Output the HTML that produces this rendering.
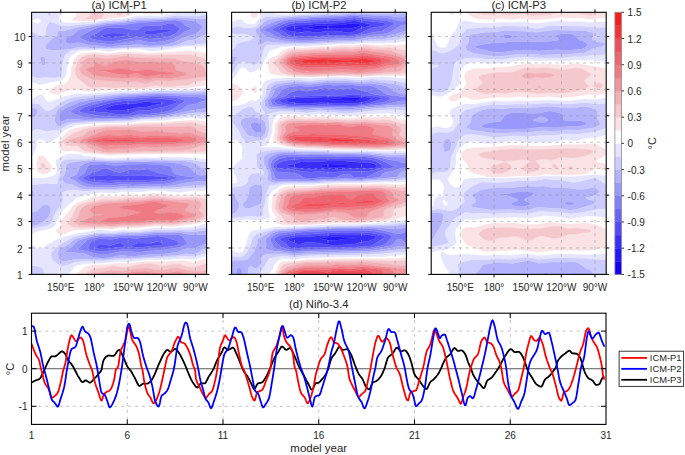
<!DOCTYPE html>
<html><head><meta charset="utf-8"><style>
html,body{margin:0;padding:0;background:#fff;overflow:hidden}
svg{display:block}
</style></head><body>
<svg width="685" height="455" viewBox="0 0 685 455">
<rect width="685" height="455" fill="#fff"/>
<clipPath id="cp0"><rect x="31.6" y="12.3" width="175.0" height="262.09999999999997"/></clipPath>
<g clip-path="url(#cp0)">
<rect x="31.6" y="12.3" width="175.0" height="262.09999999999997" fill="#fff"/>
<path d="M107.3 178.4 112.4 178.4 113.5 178.3 112.4 177.8 109 177.3 106.2 178.3ZM107.3 109.9 114.1 110.6 122.5 110.4 127.5 109.8 137.6 107.4 146 107.3 154.4 105 164.8 103.2 161.2 102 154.4 102.4 146 101.6 135.9 103.6 127.5 103.6 117.4 104.6 111.7 105.8 105 108.4 106 109.8Z" fill="#372dfa" stroke="#372dfa" stroke-width="0.4" fill-rule="evenodd"/>
<path d="M97.2 248.6 102.3 249.2 123.9 246.7 124.8 245.4 120.8 243 119.1 243 110.7 245.4 107.3 245.3 100.6 244 96.3 246.7 95.8 248.1ZM132.6 246.8 139.3 247.4 151.1 246 161.6 245.4 162.8 244.1 161.2 242.7 158.1 241.5 151.1 243.2 137.6 243 131.1 245.4 131.9 246.7ZM109 180.9 120.8 180 132.6 180.5 163.9 179.6 168.7 178.3 167.7 176.9 145 175.6 130.9 175.2 120.8 176 109 175 92.2 176.3 89.3 176.9 88.5 178.3 90.5 179.5ZM106.2 178.3 109 177.3 113.5 178.3ZM114.1 113.8 120.8 114.5 127.5 114.3 130.4 113.7 137.6 110.7 149.4 110.5 154.4 108.8 164.5 106.8 175.4 103.2 177 101.9 176.3 101.2 171.3 99.7 161.2 98.7 151.1 99.1 144.3 99.2 137.6 100.3 125.8 100.8 115.7 101.9 109.6 103.2 90.9 108.4 88.7 109.8 88.8 111.1 90.5 111.5 105.7 112.4ZM106 109.8 105 108.4 111.7 105.8 117.4 104.6 127.5 103.6 135.9 103.6 146 101.6 154.4 102.4 162.8 102.2 164.8 103.2 154.4 105 147.7 107 135.9 107.7 125.8 110.1 115.7 110.6ZM105.6 37.5 112.4 38.1 123.1 36 126.6 34.7 124.9 33.4 122.5 33.2 110.7 33.1 103.6 34.7 101 36ZM147.7 34.8 151.1 34.8 167.4 32.1 170.1 30.7 169.8 29.4 166.2 29.3 147.2 30.7 144.3 32.1 144.3 33.4Z" fill="#504afa" stroke="#504afa" stroke-width="0.4" fill-rule="evenodd"/>
<path d="M93.9 250.8 102.3 251.5 124.1 249.3 139.3 249.6 164.5 247.4 176.5 245.4 179.3 244.1 178 241.5 176.3 240.4 169.6 238.6 162.8 236.8 157.8 236.1 135.9 238.4 122.5 237.6 110.7 239.4 102.3 238.6 98.5 238.8 94.1 240.2 91.9 241.5 90.4 242.8 88.2 246.7 87.8 248.1 88.7 249.4ZM95.8 248.1 97.2 245.9 100.6 244 109 245.4 112.4 245.1 119.1 243 122.5 243.7 124.8 245.4 123.9 246.7 100.6 249.3ZM131.9 246.7 131.1 245.4 137.6 243 149.4 243.3 157.2 241.5 159.5 241.9 162.8 244.1 161.2 245.5 151.1 246 139.3 247.4ZM93.9 182.3 110.7 183.2 122.5 181.9 132.6 182.6 164.5 181.6 177.5 178.3 176.3 176.9 162.8 173.7 157.8 173 147.7 169.1 139.3 170.2 130.9 169.3 122.5 172 119.1 172.4 114.1 171.6 107.3 168.6 104 168.3 101.5 169 98.9 170.7 92.2 172.3 89.6 174.3 83.7 176.9 82.8 178.3 84.2 179.6 88.8 181.5ZM108.3 180.9 90.5 179.5 88.5 178.3 89.3 176.9 92.2 176.3 109 175 120.8 176 130.9 175.2 146 175.6 167.7 176.9 168.7 178.3 163.9 179.6 132.6 180.5 122.5 179.9ZM110.7 116.5 120.8 116.9 129.2 116.5 139.3 114.2 149.4 114 162.2 112.4 167.9 111.2 171.8 109.8 179.2 104.5 184.5 101.9 184.7 100.5 179.7 98.5 174.6 97.5 161.2 96.6 154.4 96.8 118.8 99.2 109 100.8 93.9 104.3 84.9 107.1 80.4 109.7 79.2 111.1 80.6 112.4 100.6 116ZM113.6 113.7 105.7 112.4 90.5 111.5 88.8 111.1 88.7 109.8 90.9 108.4 109.6 103.2 116.3 101.9 125.8 100.8 137.6 100.3 144.3 99.2 152.8 99.1 162.8 98.8 172.9 100 175.1 100.5 177 101.9 174.6 103.5 164.5 106.8 154.4 108.8 149.4 110.5 137.6 110.7 130.4 113.7 127.5 114.3 120.8 114.5ZM107.3 41.4 114.1 41.2 137.6 37 149.4 39.1 161.2 38.1 169.6 36.4 176.3 32.9 179.7 29.4 179.4 28.1 172.9 23.5 169.6 23.2 162.8 25 159.5 25.4 146 25.5 142.7 26.5 138 29.4 135.9 29.8 132.6 29.7 124.1 28.1 110.7 27.6 106 28.1 102.3 29.5 96.4 33.4 90 36 89.3 37.3 91.3 38.6 93.9 39.4ZM104.6 37.3 101 36 103.6 34.7 109 33.4 114.1 33 124.1 33.3 126.6 34.7 117 37.3 110.7 38.2ZM147.3 34.7 144.3 33.4 144.3 32.1 147.2 30.7 167.9 29.2 169.8 29.4 170.1 30.7 167.4 32.1 151.1 34.8Z" fill="#6864fa" stroke="#6864fa" stroke-width="0.4" fill-rule="evenodd"/>
<path d="M100.6 254.7 105.6 254.5 120.8 251.6 127.5 251.4 139.3 252.2 151.1 250.7 162.8 249.9 179.7 247.4 187.4 244.1 187.2 242.8 182.4 236.2 179.7 234.9 178 234.7 166.2 234.6 154.4 234.4 139.3 236 122.5 235.8 110.7 237.1 100.6 236.7 90.5 238.5 86.9 240.2 82.1 245.3 78.7 247.9 78.5 249.4ZM93.4 250.7 88.7 249.4 87.8 248.1 88.2 246.7 90.4 242.8 91.9 241.5 94.1 240.2 98.9 238.8 102.3 238.6 110.7 239.4 122.5 237.6 135.9 238.4 157.8 236.1 162.8 236.8 170.3 238.8 176.3 240.4 178 241.5 179.3 244.1 176.5 245.4 164.5 247.4 139.3 249.6 124.1 249.3 102.3 251.5ZM193.1 244.2 194.8 243.8 195.2 242.8 194.8 242.6 192.7 242.8 192.7 244.1ZM92.2 184.9 112.4 185.5 122.5 184.3 132.6 184.9 151.1 183.9 162.8 184.2 169.6 183.3 183 180 191.5 179 194.7 178.3 194 176.9 183 176 175.9 174.3 172.8 171.7 171.8 169 170.5 166.4 167.9 165.5 147.7 163.9 127.5 164.2 115.7 165.7 104 163.9 90.5 164.5 87.5 166.4 85.5 171.7 83.5 174.3 77.6 176.9 77 178.3 78.7 180 85.4 183.4 88.8 184.5ZM92.9 182.2 88.8 181.5 84.2 179.6 82.8 178.3 83.7 176.9 89.6 174.3 92.2 172.3 98.9 170.7 101.5 169 104 168.3 107.3 168.6 114.1 171.6 119.1 172.4 122.5 172 130.9 169.3 139.3 170.2 147.7 169.1 154.4 172 159.5 173.3 176.3 176.9 177.5 178.3 164.5 181.6 132.6 182.6 122.5 181.9 110.7 183.2ZM87.1 117.8 100.6 118.4 125.8 118.2 141 116 151.1 115.7 167.9 113.7 181.6 109.8 188.1 104.9 196.5 103.9 201.6 101.5 206.6 100.3 206.6 98.9 203.2 98.7 198.2 97.1 194.8 96.7 188.1 97 174.6 95.5 156.1 95 120.8 97.2 91.5 101.9 78.7 106.3 74.4 108.4 71 111.1 70.8 112.4 73.5 113.7 82.1 116.8ZM109.1 116.3 100.6 116 80.6 112.4 79.2 111.1 80.4 109.7 84.9 107.1 93.9 104.3 109 100.8 118.8 99.2 156.1 96.7 176.3 97.7 184.7 100.5 184.5 101.9 179.2 104.5 171.8 109.8 167.9 111.2 162.2 112.4 149.4 114 139.3 114.2 127.5 116.7ZM107.3 44.3 110.7 44.5 137.6 40.5 141 40.6 149.4 42.4 157.8 42.1 167.9 40.4 172.9 38.8 178.5 36 184.7 31.8 190 29.4 191.5 28.1 185.1 25.5 181.3 21.5 179.7 21 174.6 20.1 167.9 20.5 161.2 21.4 141 22.4 122.5 24.7 107.3 25.3 100.6 26.7 93.1 29.4 80.7 36 79.4 37.3 80.7 38.6 90.5 42.4 98.9 42.9ZM106.3 41.3 93.9 39.4 91.3 38.6 89.3 37.3 90 36 96.4 33.4 102.3 29.5 106 28.1 110.7 27.6 124.1 28.1 132.6 29.7 135.9 29.8 138 29.4 142.7 26.5 146 25.5 159.5 25.4 164.5 24.5 169.6 23.2 172.9 23.5 179.4 28.1 179.7 29.4 175.6 33.4 172.9 35 167.9 36.9 157.8 38.5 149.4 39.1 137.6 37 127.5 39.2 112.4 41.5Z" fill="#807efb" stroke="#807efb" stroke-width="0.4" fill-rule="evenodd"/>
<path d="M93.9 257.4 104 258.2 111.5 257.3 120.8 255.3 129.2 256.1 135.9 256.1 147.7 254.8 164.5 253.9 178 251.7 186.4 247.9 194.8 248.3 203.2 244.6 206.6 243.9 206.6 234.7 189.8 234.7 184.7 233.5 179.7 232.7 154.4 232.8 137.6 234.5 122.5 234.3 110.7 235.6 100.6 235 88.8 237.1 78.7 240.3 77 241.5 72 246.8 66 250.7 66 252 83.8 253.5ZM100.4 254.6 78.5 249.4 78.7 247.9 82.1 245.3 86.9 240.2 90.5 238.5 100.6 236.7 110.7 237.1 122.5 235.8 139.3 236 154.4 234.4 167.9 234.7 179.4 234.9 182.4 236.2 187.2 242.8 187.4 244.1 179.7 247.4 162.8 249.9 151.1 250.7 139.3 252.2 127.5 251.4 120.8 251.6 105.6 254.5ZM192.7 244.1 192.7 242.8 195.2 242.8 194.8 243.8ZM109 187.5 114.1 187.6 122.5 186.6 132.6 187 151.1 186 165.3 186.2 174.6 185.3 184.7 183.1 198.2 181.2 201.6 180.9 206.6 181.6 206.6 174.5 201.6 175.4 198.2 174.8 195.1 173 188.6 166.4 180.3 163.8 167.9 162.2 127.5 161.8 115.7 162.8 104 161.8 93.9 161.6 88.8 162.1 84.1 163.8 79.8 166.4 78.7 170.4 76.4 174.3 74.4 175.6 70.4 176.9 69.4 178.3 73.7 180.3 80.4 184.8 85.4 186.8 90.5 187.4ZM90.6 184.8 83.8 182.6 78.7 180 77 178.3 77.6 176.9 83.8 174 85.5 171.7 87.5 166.4 89.1 165.1 92.2 164.2 104 163.9 115.7 165.7 129.2 164.1 147.7 163.9 156.1 164.9 165.9 165.1 170.5 166.4 171.5 167.7 172.1 170.4 174 173 175.9 174.3 183 176 194 176.9 194.7 178.3 183 180 167.9 183.6 161.2 184.3 151.1 183.9 132.6 184.9 122.5 184.3 112.4 185.5ZM60.2 120.9 61.9 121.2 66.9 119.4 70.3 118.9 83.8 120.1 129.2 119.2 141 117.5 151.1 117.2 166.2 115.7 191.5 110.5 206.6 108.2 206.6 100.3 201.6 101.5 196.5 103.9 188.1 104.9 181.6 109.8 167.9 113.7 151.1 115.7 141 116 130.9 117.8 122.5 118.3 98.9 118.4 85.4 117.6 82.1 116.8 70.8 112.4 71 111.1 72.4 109.8 78.7 106.3 90.5 102.1 107.3 99 122.5 97 159.5 94.9 176.3 95.6 186.4 97 196.5 96.8 203.2 98.7 206.6 98.9 206.6 94.5 196.5 94.2 186.4 94.6 157.8 93.5 120.8 95.6 90.5 99.7 78.7 102.5 68.3 107.1 61.9 110.6 60.2 112.2 59.5 113.7 59.2 119ZM104 46.8 110.7 47.3 120.8 45.5 130.5 45.2 137.6 43.9 149.4 46.1 162.5 45.2 172.9 43 184.7 36.9 193.6 34.7 197.9 32.1 203.2 27 206.6 26.9 206.6 26.5 203.2 26.7 195.5 21.5 191.5 20.5 178 18.9 171.3 18.9 161.2 20 139.3 20.7 120.8 23 107.3 23.7 79.5 29.4 77.2 30.7 72.9 34.7 67.4 37.3 65.9 38.6 65.7 41.3 66.9 42.9 70.3 43.9 77 42.8 80.4 43.1 90.5 45.4 98.9 45.7ZM105.7 43.9 98.9 42.9 90.5 42.4 80.7 38.6 79.4 37.3 80.7 36 90 30.7 96.5 28.1 107.3 25.3 122.5 24.7 141 22.4 161.2 21.4 169.6 20.3 176.3 20.3 181.3 21.5 184.7 25.3 191.5 28.1 190 29.4 184.7 31.8 178.5 36 172.9 38.8 167.9 40.4 157.8 42.1 149.4 42.4 141 40.6 137.6 40.5 110.7 44.5Z" fill="#9998fc" stroke="#9998fc" stroke-width="0.4" fill-rule="evenodd"/>
<path d="M63.6 261.6 77 259.1 104 259.8 119.1 258.1 130.9 258.2 167.9 256.1 178 255.2 186.4 253.7 193.1 254.4 197.6 253.3 202.4 249.4 206.6 248.1 206.6 243.9 203.2 244.6 194.8 248.3 186.4 247.9 178 251.7 167.9 253.6 135.9 256.1 129.2 256.1 120.8 255.3 109 257.7 100.6 258.2 93.3 257.3 82.7 253.3 66 252 66 250.7 70.3 248.1 73.7 245.2 77 241.5 79.1 240.2 90.5 236.6 100.6 235 110.7 235.6 122.5 234.3 135.9 234.6 157.8 232.7 179.7 232.7 189.8 234.7 206.6 234.7 206.6 230.2 191.5 231.8 179.7 230.9 171.3 231.4 156.1 231.3 137.6 233.1 122.5 232.9 110.7 234.1 100.6 233.6 90.4 234.9 75.4 238.8 73 240.2 68.6 244.3 61.9 247.5 59.5 249.4 58.5 250.7 57.6 253.3 58.5 257.4 60.2 260.2ZM33.3 225.9 38.3 224.4 43.7 221.7 48.4 217 50.1 213.5 50.9 208.5 50.1 206.6 47.9 204.6 45.1 204.2 43.4 204.8 36.6 211.2 31.6 211.7 31.6 226ZM32.8 196.7 33.7 195.4 34 192.7 33.3 190.9 31.6 190.4 31.6 197.4ZM82.1 189 87.1 189.4 112.4 189.3 122.5 188.5 135.9 188.6 151.1 187.7 172.9 187.7 194.8 185.4 206.6 185.1 206.6 181.6 201.6 180.9 184.7 183.1 174.6 185.3 164.5 186.2 151.1 186 132.6 187 122.5 186.6 112.4 187.6 90.5 187.4 85.4 186.8 80.4 184.8 73.7 180.3 69.4 178.3 70.4 176.9 74.4 175.6 76.4 174.3 78.7 170.4 79.8 166.4 81.4 165.1 87.1 162.6 90.5 161.8 100.6 161.7 114.1 162.8 125.8 161.9 146 161.6 156.1 162.2 166.2 162 174.6 162.9 180.3 163.8 188.6 166.4 196.8 174.3 201.6 175.4 206.6 174.5 206.6 167.5 201.6 168.3 197.8 165.1 194.8 163.3 191.5 162.2 185.1 161.1 164.5 160.2 127.5 160.2 114.1 160.9 93.9 160 78.7 161.2 70.3 162.4 66.9 163.9 65.5 166.4 65.6 170.4 65 173 61.9 178.3 62.9 180.9 65.3 183.6 72 184.5 78.7 188ZM58.5 126.4 66.9 123.1 72 122 127.5 120.4 142.7 118.6 164.5 117.3 193.1 113.1 206.6 112.4 206.6 108.2 191.5 110.5 166.2 115.7 151.1 117.2 141 117.5 129.2 119.2 83.8 120.1 70.3 118.9 66.9 119.4 61.9 121.2 60.2 120.9 59.2 119 59.5 113.7 60.1 112.4 61.9 110.6 68.3 107.1 78.7 102.5 86.2 100.5 122.5 95.4 137.6 95 157.8 93.5 186.4 94.6 196.5 94.2 206.6 94.5 206.6 92 186.4 92.7 156.1 92.2 137.6 93.6 120.8 94 78.7 99.3 68.6 102.6 60.2 107.3 57.4 109.8 55.4 113.7 54.6 120.3 56 124.3ZM32.5 117.7 35 116.4 36.3 115 37.5 112.4 37.7 111.1 37.1 109.8 35 108.2 31.6 107.6 31.6 117.9ZM43.4 65.6 45.2 65 45 58.4 43.4 56.7 41.7 56.5 40.7 57.1 40 58.4 41.7 64.7ZM51.8 50.6 70.9 49.2 77 47.5 80.4 47.1 90.5 48 109 48.4 137.6 46.9 149.4 47.3 168 46.5 176.6 45.2 186.4 41.1 194.8 39.7 201.6 36 206.6 35.3 206.6 26.9 203.2 27 197.9 32.1 194.8 34.2 184.7 36.9 174.6 42.3 170 43.9 161.2 45.4 149.4 46.1 137.6 43.9 130.9 45.2 120.8 45.5 109 47.4 98.9 45.7 90.5 45.4 80.4 43.1 77 42.8 72 43.8 68.6 43.7 66.6 42.6 65.7 41.3 65.9 38.6 67.4 37.3 73.7 34.1 77.2 30.7 79.5 29.4 104 24.2 122.5 22.9 139.3 20.7 178 18.9 193.1 20.9 195.5 21.5 203.2 26.7 206.6 26.5 206.6 18.4 201.6 18.8 174.6 17.3 160.5 18.9 137.6 19.3 122.5 21.4 104 22.7 93.9 24.8 78.7 26.8 65.3 30.5 58.5 31.1 57.8 32.1 56.8 36 52.1 38.6 50.1 40.4 46.8 43.9 45.4 46.5 45.3 47.9 45.9 49.2Z" fill="#b2b2fd" stroke="#b2b2fd" stroke-width="0.4" fill-rule="evenodd"/>
<path d="M33.3 274.4 44.5 274.4 43.7 270.4 41.7 267.7 38.3 266.2 31.6 265.2 31.6 274.4ZM60.2 265.8 61.9 266.2 65.3 265.9 74.3 262.5 82.1 261.4 105.6 261.2 117.4 259.8 130.9 259.7 146 258.4 166.2 257.8 184.7 256.2 193.1 256.8 203.2 254.1 206.6 253.7 206.6 248.1 202.4 249.4 197.6 253.3 193.1 254.4 186.4 253.7 178 255.2 167.9 256.1 130.9 258.2 119.1 258.1 104 259.8 77 259.1 63.6 261.6 60.2 260.2 59 258.6 57.6 253.3 58 252 58.5 250.6 61 248.1 68.9 244.1 73 240.2 77 238.1 90.4 234.9 98.9 233.7 110.7 234.1 122.5 232.9 135.9 233.1 156.1 231.3 171.3 231.4 179.7 230.9 191.5 231.8 206.6 230.2 206.6 227.3 191.5 229.5 181.4 229.3 171.3 230 154.4 230 137.6 231.7 122.5 231.6 112.4 232.8 98.9 232.4 77 235.7 72.2 237.5 60.2 244.3 54 249.4 50.7 253.3 51.9 259.9ZM33.3 228.6 47.8 225.7 50.1 224.2 52.2 221.7 55.6 212.5 58.8 208.5 62.5 202 63 199.3 62.6 192.7 66.9 190.8 72 190.2 83.8 191.2 102.3 190.4 114.1 190.6 122.5 189.9 139.3 189.8 151.1 189.1 176.3 189.3 193.1 188.1 206.6 187.8 206.6 185.1 201.6 185.1 172.9 187.7 151.1 187.7 135.9 188.6 122.5 188.5 112.4 189.3 87.1 189.4 81.1 188.8 72 184.5 65.3 183.6 62.2 179.6 62.3 176.9 65 173 65.6 170.4 65.5 166.4 66.9 163.9 72 162.1 90.5 160.1 107.3 160.5 114.1 160.9 127.5 160.2 164.5 160.2 184.7 161.1 191.5 162.2 194.8 163.3 197.8 165.1 201.6 168.3 206.6 167.5 206.6 161.9 201.6 161.8 194.8 160.2 188.1 159.5 146 159 112.4 159.6 92.2 159 70.3 159 64.5 159.8 62 161.1 60.6 163.8 60.4 173 58.1 178.3 58 182.2 56.8 183.5 55.2 183.9 46.7 183.2 31.6 185 31.6 190.4 33.3 190.9 34 192.7 33.3 196.2 31.6 197.4 31.6 211.7 36.6 211.2 41.7 206 45.1 204.2 48.4 204.8 50.1 206.6 50.9 208.5 50.1 213.5 48.4 217 43.7 221.7 36.6 225.1 31.6 226 31.6 228.7ZM33.3 130.8 35.9 129.5 38.3 129.2 46.7 131.7 53.5 130.2 58.5 130.5 68.6 124.7 73.7 123.6 92.2 122.4 129.2 121.1 141 119.7 164.5 118.4 193.1 115.1 206.6 114.8 206.6 112.4 194.8 113 164.5 117.3 142.7 118.6 127.5 120.4 72 122 66.9 123.1 58.5 126.4 56 124.3 54.7 121.6 55.4 113.7 56.5 111.1 58.5 108.5 60.2 107.3 70.3 101.9 82.1 98.7 122.5 93.9 137.6 93.6 157.8 92.2 186.4 92.7 206.6 92 206.6 90 186.4 91.1 156.1 91 139.3 92.2 120.8 92.6 78.7 96.5 71 97.9 65.3 100 60.2 102.8 51.8 109.4 48.4 110.7 45.1 110.1 40 104.7 38.3 103.6 31.6 103.4 31.6 107.6 35.4 108.4 37.1 109.8 37.7 111.1 36.3 115 35 116.4 31.6 117.9 31.6 131.7ZM38.3 78.2 45.1 77.6 55.2 77.9 58.5 77.4 60.2 76.4 61.9 74.5 62.5 72.9 62.2 67.6 63.1 61 64.9 55.8 65.8 54.4 71.1 50.5 83.8 49.2 109 49.1 139.3 48 149.4 48.3 167.9 47.4 184.7 45.4 194.8 45.1 206.6 43.4 206.6 35.3 201.6 36 194.8 39.7 186.4 41.1 176.6 45.2 168 46.5 149.4 47.3 137.6 46.9 109 48.4 90.5 48 80.4 47.1 77 47.5 70.9 49.2 51.8 50.6 45.9 49.2 45.3 47.9 45.9 45.2 47.8 42.6 51.8 38.9 56.8 36 57.8 32.1 58.5 31.1 63.6 30.7 78.7 26.8 93.9 24.8 104 22.7 122.5 21.4 137.6 19.3 160.5 18.9 174.6 17.3 201.6 18.8 206.6 18.4 206.6 14.6 196.5 16 186.4 16 176.3 15.2 161.2 17.5 137.6 17.8 122.5 20.1 107.3 21 93.9 23.3 65.3 26 60.2 25.3 51.8 22 50.1 21.9 47.7 24.2 45.9 28.1 46 32.1 45.1 34.9 43.4 35.8 40 35.8 31.6 31.2 31.6 76.6ZM42.1 65 40 58.4 40.7 57.1 41.7 56.5 43.4 56.7 45 58.4 45.4 63.7 45.1 65.1 43.4 65.6ZM50.1 17.1 51.2 12.3 48.4 12.3 47.2 12.3 48.4 16Z" fill="#ccccff" stroke="#ccccff" stroke-width="0.4" fill-rule="evenodd"/>
<path d="M45.1 274.4 66.7 274.4 71.8 270.4 74.4 266.5 78.7 264.7 87.1 263.4 104 263 117.4 261.6 129.2 261.7 147.7 259.8 164.5 259.7 183 258.4 193.1 259.3 206.6 256.2 206.6 253.7 203.2 254.1 193.1 256.8 184.7 256.2 166.2 257.8 146 258.4 130.9 259.7 117.4 259.8 105.6 261.2 82.1 261.4 75.4 262.3 65.3 265.9 61.9 266.2 58.5 265 51.9 259.9 50.7 253.3 52.6 250.7 58.5 245.4 72 237.6 77 235.7 98.9 232.4 112.4 232.8 122.5 231.6 137.6 231.7 154.4 230 171.3 230 181.4 229.3 191.5 229.5 206.6 227.3 206.6 223.5 202.6 224.4 195.3 227 191.5 227.4 181.4 227.5 169.6 228.6 154.4 228.1 139.3 230.2 130.9 230.4 122.5 229.9 112.4 231.4 102.3 229.9 98.9 230 75.4 233.9 59.5 238.8 53.5 241.2 52 242.8 48.2 244.1 43.4 247.7 40 249.2 38.3 249 33.3 246 31.6 245.6 31.6 265.2 38.3 266.2 41.7 267.7 43.4 269.8 44.5 274.4ZM33.3 233 38.6 230.9 50.1 228.7 53.2 227 54.7 225.7 60.3 213.8 66.9 205.7 73.7 200.6 77 197.4 90.5 193.8 100.6 192.4 114.1 193.2 124.1 191.5 139.3 191.9 152.8 190.5 166.2 191.1 178 192.5 193.1 190.6 201.6 190.9 206.6 190.4 206.6 188.8 206.6 187.8 193.1 188.1 176.3 189.3 151.1 189.1 139.3 189.8 122.5 189.9 114.1 190.6 102.3 190.4 83.8 191.2 72 190.2 66.9 190.8 62.6 192.7 63 199.3 62.5 202 58.8 208.5 55.6 212.5 51.8 222.2 50.1 224.2 47.8 225.7 38.3 227.9 31.6 228.7 31.6 233.2ZM33.3 184.9 46.7 183.2 55.2 183.9 56.8 183.5 58 182.2 58.1 178.3 60.4 173 60.4 165.1 61.1 162.4 62 161.1 63.6 160.2 66.9 159.3 92.2 159 112.4 159.6 144.3 159 181.4 159.3 192.2 159.8 203.2 161.9 206.6 161.9 206.6 159.1 199.9 158.9 186.4 157.5 164.5 157.2 156.1 158 144.3 157.4 109 158.6 94.2 157.2 90.5 156.2 85.4 156.3 80.1 154.5 75.4 153.9 68.6 154.1 62.9 155.9 56.5 159.8 56 161.1 57 170.4 56.4 173 55.2 174.8 51.8 176.4 45.1 177.9 31.6 178.3 31.6 185ZM32 169 32.8 165.1 32 157.2 35.7 149.3 36.3 146.6 36.1 142.7 38.3 139.4 40 138.8 41.7 139.2 48.4 142.3 50.1 142.2 58.5 136.4 62.3 132.2 65.5 129.5 73.7 125.9 77 125 90.5 123.7 107.3 122.7 127.5 122.7 142.7 120.6 164.5 120.4 172.9 118.9 191.5 117.5 201.6 118.5 206.6 118.5 206.6 114.8 193.1 115.1 164.5 118.4 141 119.7 129.2 121.1 92.2 122.4 73.7 123.6 68.6 124.7 58.5 130.5 53.5 130.2 48.4 131.6 45.1 131.4 40 129.5 36.6 129.3 31.6 131.7 31.6 170.1ZM45.1 110.1 46.7 110.7 50.1 110.3 64 100.5 70.3 98.1 77 96.7 122.5 92.5 139.3 92.2 157.8 90.9 188.1 91.1 206.6 90 206.6 88 183 89.6 167.9 90.1 156.1 89.7 141 90.8 120.8 91.2 87.1 93.9 77 93.8 65.3 96.2 50.1 102.2 48.4 102 46.7 100.9 43.4 96.4 41.7 95 40 94.7 38.3 95.2 34.4 97.9 31.6 98.9 31.6 103.4 38.3 103.6 40 104.7ZM38.3 84.1 41.7 84.6 46.7 83 59.9 80.8 62.6 79.5 65 76.8 66.3 74.2 66.5 68.9 67.9 65 68.1 61 69.2 58.4 71.2 55.8 79.1 50.5 98.9 50.1 109 51.4 120.7 49.2 137.6 49 142.2 49.2 147.7 50.8 152.8 50.9 162.8 50.1 185.2 46.5 206.6 46.2 206.6 43.4 204.9 43.6 194.8 45.1 184.7 45.4 172.9 47.1 151.1 48.3 139.3 48 109 49.1 83.8 49.2 71.1 50.5 65.8 54.4 64.9 55.8 63.1 61 62.2 67.6 62.5 72.9 61.1 75.5 58.5 77.4 53.5 78 45.1 77.6 38.3 78.2 31.6 76.6 31.6 81.8ZM38.3 35.2 41.7 36 45.1 34.9 46 32.1 45.9 28.1 47.7 24.2 50.1 21.9 51.8 22 60.2 25.3 66.9 25.9 93.9 23.3 107.3 21 122.5 20.1 137.6 17.8 161.2 17.5 176.3 15.2 188.1 16.1 199.9 15.8 206.6 14.6 206.6 12.3 195.3 12.3 186.4 13.1 178 12.8 169.6 14 164.5 15.4 159.5 16 137.6 15.8 123.1 18.9 107.3 19.8 93.9 22 70.3 22.9 63.6 22.5 60.5 21.5 58.8 20.2 59.5 16.3 59.2 14.9 59.7 13.6 61.3 12.3 51.2 12.3 50.1 17.1 48.4 16 47.2 12.3 31.6 12.3 31.6 21.3 31.8 20.2 36.6 18.7 38.3 18.5 41.2 20.2 40.8 21.5 38.3 23.4 36.6 23.5 31.6 21.5 31.6 31.2Z" fill="#e5e5ff" stroke="#e5e5ff" stroke-width="0.4" fill-rule="evenodd"/>
<path d="M77 274.4 84.4 274.4 93.9 268.5 102.3 268.3 112.4 266.1 124.1 267.7 142.5 263.9 147.7 263.5 153 263.9 162.8 266.3 172.9 264.3 179.7 264.2 188.1 267 193.1 267.3 196.5 266.9 203.2 264.4 206.6 263.9 206.6 259 201.6 259.7 193.1 262.4 184.7 260.8 179.7 260.7 164.5 261.7 146 261.6 129.2 263.4 115.7 263.4 104 264.7 92.2 264.9 86 266.5 77 273.5 76.3 274.4ZM60.2 233.7 65.1 233.6 70.9 230.9 75.4 230 98.9 228.4 112.4 229.1 122.5 227.8 139.3 227.8 156.1 225.9 172.9 226.4 194.8 223.9 206.6 221 206.6 217.9 200.7 220.4 194.8 222.1 172.9 224.7 156.1 224.6 139.3 226.2 120.8 226.6 112.4 227.6 102.3 227.1 82.1 227.7 77 227.5 70.4 225.7 68.3 224.4 67.7 223 68.9 220.4 72.4 216.4 74.3 211.2 77 206.8 78.7 205.5 84 203.3 93.9 200.8 102.3 199.4 115.7 199.4 127.5 198 141 198 152.8 196 174.6 198.1 193.1 197.8 206.6 199 206.6 195.4 193.1 194.8 176.3 195.8 154.4 193.3 151.1 193.4 141 195.3 125.8 195 115.7 196.6 104 196 93.9 197.3 77 202.9 73.1 205.9 62.7 219.1 61 223 60.8 225.7 55.6 230.9 58.5 233.4ZM40 173.1 43.4 173.9 46.7 173.4 50 171.7 51.7 169 51.4 166.4 50.2 163.8 45.1 157.2 41.7 155.4 40 155.6 38.3 157.1 37.6 158.5 36.9 162.4 37.1 169 38.2 171.7ZM41.8 167.7 41.3 166.4 41.5 163.8 43.4 163.3 43.9 163.8 45.1 165.1 45.2 167.7 43.4 168.5ZM104 154.6 109 155.2 119.1 154.4 144.3 153.9 206.6 153.9 206.6 151.1 193.1 152.2 176.3 152.6 144.3 152.6 105.6 153.5 88.5 151.9 83.8 150.6 78.7 146.7 77 146.1 66.9 145.3 65.3 144.7 63.3 142.7 63.1 141.4 64.9 138.7 70.3 135 83.3 129.5 87.2 128.2 93.9 127 107.3 125.9 119.1 125.6 130.9 125.3 142.7 124.2 166.2 124 172.9 123.2 189.8 122.6 193.1 122.9 199.9 124.9 206.6 125.9 206.6 121.6 191.5 120.2 164.5 122.3 142.7 122.8 127.5 124.3 105.6 124.5 88.8 126 75.3 128.2 70.3 130.1 66.8 132.2 58.9 141.4 58.6 142.7 59.8 148 61.9 150.6 65.3 151.2 73.7 150.8 83.8 153.1ZM53.5 94.1 58.5 94.1 68.6 90.3 77 89.8 88.8 91.3 120.8 89.5 144.3 89.3 156.1 88.1 167.9 88.6 186.4 88 206.6 84.9 206.6 79.7 194.8 81.7 188.1 85.2 178 85.7 169.6 86.7 164.5 86.6 156.1 85.4 144.3 87.6 90.5 87.4 87.1 86.1 83 82.1 77.7 78.2 76.1 75.5 75 68.9 76.7 66.3 78 61 81.8 57.1 85.4 55.4 93.9 54.6 107.3 55.6 122.5 54 137.6 54.3 149.4 55.4 186.4 54.2 191.5 54.9 206.6 59 206.6 53.1 188.1 50.5 176.3 51.9 152.8 53.1 146 53.1 137.6 52.2 122.5 52 109 53.5 95.5 52.5 83.8 53.2 79.3 54.4 77 55.8 74.1 59.7 73.1 62.3 72.5 66.3 70.9 68.9 71.1 72.9 70.2 76.8 69.2 79.5 67.3 82.1 63.6 84.5 58.5 84.9 55.3 86.1 51.9 88.7 49.7 91.3 50 92.6ZM31.7 92.6 32.5 91.3 31.6 90.4 31.6 91.3ZM73.7 20.6 82.1 21.1 93.9 20.8 109 18.2 121.4 17.6 131.3 14.9 132.2 13.6 131.9 12.3 121.1 12.3 122.1 13.6 120.8 15 117.5 14.9 117.1 13.6 118.3 12.3 102.9 12.3 103 14.9 102.3 17.6 97.2 19 90.5 19.4 85.5 18.9 90.1 16.3 91.1 12.3 77.5 12.3 76.2 13.6 76.1 16.3 72.7 18.9 72 20.2ZM144.3 13.9 161.2 14 168.3 12.3 166.2 12.3 142.2 12.3 143 13.6Z" fill="#fae2e5" stroke="#fae2e5" stroke-width="0.4" fill-rule="evenodd"/>
<path d="M85.4 274.4 91.2 274.4 95.5 272.6 102.3 272.2 110.7 270.3 122.5 271.6 134.2 269.2 144.3 268 149.4 268.3 159.5 270.3 164.5 270.3 176.3 268.3 179.7 268.6 189.8 271 198.2 271.3 206.6 270.9 206.6 263.9 204.9 263.9 198 266.5 193.1 267.3 188.1 267 179.7 264.2 172.9 264.3 162.9 266.3 153 263.9 147.7 263.5 142.5 263.9 124.1 267.7 112.4 266.1 102.3 268.3 93.9 268.5 84.4 274.4ZM75.4 227.2 82.1 227.7 102.3 227.1 112.4 227.6 120.8 226.6 139.3 226.2 156.1 224.6 172.9 224.7 196.5 221.7 206.6 217.9 206.6 199 193.1 197.8 176.3 198.2 152.8 196 141 198 127.5 198 115.7 199.4 102.3 199.4 87.1 202.4 80.6 204.6 77 206.8 74.3 211.2 72.4 216.4 68.2 221.7 67.7 223 68.6 224.6 72 226.3ZM90.8 225.7 78.7 224.9 75 223 74.9 221.7 76.3 219.1 78.9 216.4 79.9 211.2 81.7 208.5 85.1 205.9 92.9 203.3 105.6 201.5 114.1 201.5 125.8 200.3 141 199.9 152.8 198.3 176.3 199.9 189.8 199.9 196.9 200.6 200.2 202 201.5 203.3 201.7 204.6 199 208.5 198.7 209.9 202.3 213.8 202.7 215.1 202 216.4 200.1 217.8 194.8 219.8 171.3 223.6 156.1 223.3 139.3 224.9 122.5 225.2 112.4 226.3ZM43.4 168.5 45.1 167.9 45.4 166.4 45.1 165 43.4 163.3 41.7 163.4 41.2 165.1 41.7 167.6ZM102.3 153.2 109 153.6 144.3 152.6 176.3 152.6 193.1 152.2 206.6 151.1 206.6 144.9 199.9 146 189.9 149.3 176.3 150.7 164.5 150.6 156.1 151.4 144.3 150.7 130.9 151.7 107.3 152.4 101.7 151.9 96.6 150.6 81.2 144 68.8 141.4 69 140.1 79.8 137.4 83.1 136.1 87.4 132.2 92.2 130 105.6 127.6 117.4 127.4 144.3 126.5 166.2 127 172.9 126.4 181.4 127.1 189.8 126.2 193.1 127.1 199.9 131.4 206.6 133.3 206.6 125.9 199.9 124.9 191.5 122.6 172.9 123.2 166.2 124 142.7 124.2 129.2 125.4 107.3 125.9 90.5 127.5 83.3 129.5 70.3 135 63.6 140.1 63.1 141.4 63.3 142.7 65.3 144.7 66.9 145.3 77 146.1 78.7 146.7 83.8 150.6 87.1 151.6ZM92.2 87.6 104 87.1 114.1 87.7 120.8 87.2 144.3 87.6 156.1 85.4 164.5 86.6 169.6 86.7 178 85.7 188.1 85.2 194.8 81.7 206.6 79.7 206.6 76.2 184.7 79.5 169.6 81.1 156.1 80.4 152.8 81 147.7 83.1 144.3 83.5 135.9 81.1 127.5 82.4 122.5 81.6 114.1 81.4 95.5 79.8 84.4 75.5 81.3 72.9 79.2 68.9 82.3 66.3 82.9 62.3 85.4 59.6 90.5 58 95.5 57.6 107.3 58.7 124.1 56.5 144.3 58.2 172.9 58.3 184.7 61.6 194.8 63.1 200.3 65 204.2 67.6 205 68.9 205 71.6 206.6 72 206.6 59 189.4 54.4 147.7 55.3 137.6 54.3 124.1 53.9 107.3 55.6 95.5 54.6 87.1 55.1 82.1 56.9 78.7 60.1 77.4 62.3 76.7 66.3 75 68.9 75.2 70.3 76.1 75.5 77.7 78.2 83 82.1 87.1 86.1ZM87.1 19.1 95.5 19.2 102.3 17.6 103 14.9 102.9 12.3 102.3 12.3 91.1 12.3 90.1 16.3 85.5 18.9ZM119.1 15.1 121.1 14.9 122.1 13.6 121.1 12.3 119.1 12.3 118.3 12.3 117.1 13.6 117.5 14.9Z" fill="#f5c8cd" stroke="#f5c8cd" stroke-width="0.4" fill-rule="evenodd"/>
<path d="M92.2 274.4 106.2 274.4 112.4 273.4 117.9 274.4 124.1 274.4 132.6 272.3 144.3 271.2 161.2 273.4 166.2 273.2 174.6 271.5 178 271.6 189.4 274.4 206.6 274.4 206.6 273.1 206.6 270.9 198.2 271.3 189.8 271 178 268.3 172.9 268.5 166.2 270.1 161.2 270.4 146 267.9 134.2 269.2 122.5 271.6 110.7 270.3 102.3 272.2 95.5 272.6 92.2 273.8 91.2 274.4ZM92.2 225.8 102.3 225.7 112.4 226.3 122.5 225.2 139.3 224.9 156.1 223.3 172.9 223.5 194.8 219.8 200.1 217.8 202 216.4 202.7 215.1 202.3 213.8 198.7 209.9 199 208.5 201.7 204.6 201.5 203.3 200.2 202 196.9 200.6 188.1 199.9 176.3 199.9 152.8 198.3 141 199.9 125.8 200.3 114.1 201.5 105.6 201.5 92.9 203.3 85.1 205.9 81.7 208.5 79.9 211.2 78.9 216.4 76.3 219.1 74.9 221.7 75 223 78.7 224.9ZM106.7 224.4 102.3 223.8 93.9 223.9 85.4 222.7 82.6 221.7 83.8 220.3 93.9 215.7 102.4 215.1 102.3 214.6 100.6 213.8 95.5 214.8 90.4 211.2 90 209.9 90.8 208.5 94.8 205.9 105.6 203.6 139.3 201.7 152.8 200.1 163.6 200.6 177.6 202 186.4 203.3 188.1 204 189 204.6 188.7 205.9 184.6 209.9 186 211.2 193.1 213.6 195.5 215.1 195.2 216.4 192.4 217.8 172.9 222.1 157.8 221.6 139.3 223.4 120.8 223.7 112.4 224.7ZM102.3 152 109 152.4 130.9 151.7 144.3 150.7 156.1 151.4 164.5 150.6 176.3 150.7 189.9 149.3 199.9 146 206.6 144.9 206.6 141.6 191.5 144.8 176.3 146.6 164.5 146.5 156.1 147.5 142.7 146.5 130.9 148.6 117.4 148.7 109 150.1 105.6 150 97.2 146.3 83.8 142.5 80.9 141.4 80.6 140.1 105.6 130.3 117.4 130.5 130.9 130 141 131.5 157.8 131.1 166.2 132.6 172.9 132.5 179.7 133.4 189.8 132.6 199.9 136.3 206.6 137.9 206.6 133.3 199.9 131.4 193.1 127.1 189.8 126.2 181.4 127.1 172.9 126.4 166.2 127 144.3 126.5 127.5 127.3 105.6 127.6 90.5 130.5 87.4 132.2 83.1 136.1 79.8 137.4 70.3 139.5 69 140.1 68.8 141.4 81.2 144 85 145.3 92.7 149.3ZM144.3 83.5 147.7 83.1 152.8 81 156.1 80.4 169.6 81.1 184.7 79.5 204.9 76.5 206.6 76.2 206.6 72 205 71.6 205 68.9 204.2 67.6 200.3 65 194.8 63.1 184.7 61.6 173.7 58.4 141 58 124.1 56.5 107.3 58.7 95.5 57.6 88.8 58.3 85.4 59.6 83.6 61 82.9 62.3 82.3 66.3 79.2 68.9 81.3 72.9 83.8 75.2 92.2 78.9 95.5 79.8 114.1 81.4 122.5 81.6 127.5 82.4 135.9 81.1ZM124 78.2 112.4 77.5 95.5 75.7 92.4 74.2 86.9 70.3 86.1 68.9 93.7 66.3 94.6 63.7 95.5 63 98.9 63.2 104 65.5 107.3 65.2 112.3 62.3 124.1 60.2 129.2 60.3 139.3 62.3 147.7 61.8 159.5 62.7 167.9 62.5 171.3 63.1 173 63.7 174.6 65 176.2 70.3 184.8 72.9 187 74.2 183 76 170.3 78.2 156.1 77.9 146 79.3 135.9 77.5 129.2 78.3Z" fill="#f2afb6" stroke="#f2afb6" stroke-width="0.4" fill-rule="evenodd"/>
<path d="M107.3 274.4 117.4 274.3 112.4 273.4ZM124.1 274.4 189.4 274.4 184.7 273.4 179.7 271.8 176.3 271.4 166.2 273.2 161.2 273.4 144.3 271.2 132.6 272.3ZM107.3 224.4 112.4 224.7 120.8 223.7 139.3 223.4 157.8 221.6 172.9 222.1 192.4 217.8 195.2 216.4 195.5 215.1 193.1 213.6 186 211.2 184.6 209.9 188.7 205.9 189 204.6 188.1 204 186.4 203.3 177.6 202 162.9 200.6 152.8 200.1 139.3 201.7 105.6 203.6 94.8 205.9 90.8 208.5 90 209.9 90.4 211.2 95.5 214.8 100.6 213.8 102.3 214.6 102.4 215.1 93.9 215.7 83.8 220.3 82.6 221.7 85.4 222.7 93.9 223.9 102.3 223.8ZM104 221.7 102.4 220.4 109 218 125.8 216.4 137.6 213.3 143.4 212.5 129.2 209.6 120.3 208.5 120 207.2 123.4 205.9 139.3 204.3 150.6 202 154.4 201.7 161.2 202.9 169.2 205.9 164.5 207.4 157.7 209.9 155.2 211.2 154.4 212.5 159.5 214 172.9 212.2 179.7 213.7 183 215.1 184.1 216.4 182.3 217.8 176.3 219.6 169.6 220.5 157.8 219.7 141 221.6 122.5 221.6 112.4 222.7ZM104 149.6 107.3 150.1 117.4 148.7 130.9 148.6 142.7 146.5 156.1 147.5 164.5 146.5 174.6 146.7 193.1 144.5 206.6 141.6 206.6 137.9 199.9 136.3 189.8 132.6 184.7 133 179.7 133.4 172.9 132.5 166.2 132.6 157.8 131.1 141 131.5 130.9 130 105.6 130.3 80.6 140.1 80.9 141.4 83.8 142.5 97.2 146.3ZM104.3 145.3 90.5 142.6 87.1 141.4 86.7 140.1 92.2 138 105.6 135.2 109 135.1 117.4 136 129.2 134.8 141 136.4 156.1 135.5 178 136.3 189.8 136.5 193.1 137.2 196.3 138.7 197 140.1 195.5 141.4 189.8 142.9 176.3 143.9 156.1 144.6 141 144 129.2 145.2 115.7 144.9 107.3 145.7ZM124.1 78.2 129.2 78.3 135.9 77.5 146 79.3 156.1 77.9 170.3 78.2 183 76 187 74.2 184.8 72.9 176.2 70.3 174.6 65 173 63.7 171.3 63.1 167.9 62.5 159.5 62.7 151.1 61.8 146 62 139.3 62.3 129.2 60.3 124.1 60.2 112.3 62.3 107.3 65.2 104 65.5 98.9 63.2 95.5 63 94.6 63.7 93.7 66.3 86.1 68.9 86.9 70.3 92.4 74.2 95.5 75.7 112.4 77.5ZM143 75.5 139.3 73.9 135.9 73.2 127.5 74.7 115.7 73.9 98.8 70.3 116.7 68.9 127.5 69.1 137.6 71 146 69.7 149.4 69.6 156.1 71 173 72.9 172.5 74.2 169.6 74.6 156.1 74.8 147.7 76.3Z" fill="#f1949c" stroke="#f1949c" stroke-width="0.4" fill-rule="evenodd"/>
<path d="M105.6 222.1 112.4 222.7 122.5 221.6 138.3 221.7 157.8 219.7 171.3 220.4 178 219.2 182.3 217.8 184.1 216.4 183 215.1 178 213.2 171.3 212.2 159.5 214 154.4 212.5 155.2 211.2 157.7 209.9 165.4 207.2 169.2 205.9 161.2 202.9 154.4 201.7 150.6 202 139.3 204.3 123.4 205.9 120 207.2 120.3 208.5 129.2 209.6 143.4 212.5 137.6 213.3 125.8 216.4 109 218 102.4 220.4 104 221.7ZM169 217.8 170.7 216.4 173 216.4 172.2 217.8ZM105.6 145.7 115.7 144.9 130.9 145.1 141 144 154.4 144.6 172.9 144.1 189.8 142.9 195.5 141.4 197 140.1 196.3 138.7 194.8 137.9 189.8 136.5 176.3 136.2 156.1 135.5 141 136.4 129.2 134.8 117.4 136 109 135.1 105.6 135.2 92.2 138 86.7 140.1 87.1 141.4 90.5 142.6ZM100.2 142.7 93.6 141.4 92.9 140.1 105.6 137.6 117.4 137.9 130.9 137.3 141 138.3 157.8 137.4 179.7 138.7 185.6 140.1 181.3 141.4 172.9 142.2 156.1 143 141 142.3 130.9 143.3 117.4 143.1 107.3 143.6ZM144.3 76 147.7 76.3 157.8 74.7 169.6 74.6 172.5 74.2 173 72.9 156.1 71 149.4 69.6 146 69.7 137.6 71 126.1 68.9 115.7 69 98.8 70.3 104 71 114.1 73.6 119.1 74.2 127.5 74.7 134.2 73.4 137.6 73.3Z" fill="#f07a83" stroke="#f07a83" stroke-width="0.4" fill-rule="evenodd"/>
<path d="M169.6 217.8 172.2 217.8 172.9 216.4 170.7 216.4 169 217.8ZM100.6 142.8 107.3 143.6 117.4 143.1 130.9 143.3 141 142.3 156.1 143 172.9 142.2 181.3 141.4 185.6 140.1 178 138.6 157.8 137.4 141 138.3 130.9 137.3 117.4 137.9 105.6 137.6 92.9 140.1 93.6 141.4ZM103.3 141.4 102.6 140.1 107.3 139.3 117.4 140 130.9 139.3 134.9 140.1 134.2 140.6 132.9 141.4 129.2 141.6 122.9 141.4 117.4 140.1 110.7 141.6 105.6 141.8Z" fill="#f0646e" stroke="#f0646e" stroke-width="0.4" fill-rule="evenodd"/>
<path d="M104 141.5 107.3 141.8 113.4 141.4 117.4 140.1 122.9 141.4 130.9 141.6 132.9 141.4 134.9 140.1 129.2 139.2 117.4 140 105.6 139.4 102.6 140.1 103.3 141.4Z" fill="#f04e58" stroke="#f04e58" stroke-width="0.4" fill-rule="evenodd"/>
</g>
<path d="M60.77 12.3V274.4M94.42 12.3V274.4M128.07 12.3V274.4M161.73 12.3V274.4M195.38 12.3V274.4M31.6 247.97H206.6M31.6 221.54H206.6M31.6 195.11H206.6M31.6 168.68H206.6M31.6 142.25H206.6M31.6 115.82H206.6M31.6 89.39H206.6M31.6 62.96H206.6M31.6 36.53H206.6" stroke="#9a9a9a" stroke-width="0.6" stroke-dasharray="3 3.9" fill="none"/>
<path d="M60.77 274.4v3M60.77 12.3v-3M94.42 274.4v3M94.42 12.3v-3M128.07 274.4v3M128.07 12.3v-3M161.73 274.4v3M161.73 12.3v-3M195.38 274.4v3M195.38 12.3v-3M31.6 274.4h-3M206.6 274.4h3M31.6 247.97h-3M206.6 247.97h3M31.6 221.54h-3M206.6 221.54h3M31.6 195.11h-3M206.6 195.11h3M31.6 168.68h-3M206.6 168.68h3M31.6 142.25h-3M206.6 142.25h3M31.6 115.82h-3M206.6 115.82h3M31.6 89.39h-3M206.6 89.39h3M31.6 62.96h-3M206.6 62.96h3M31.6 36.53h-3M206.6 36.53h3" stroke="#000" stroke-width="1" fill="none"/>
<rect x="31.6" y="12.3" width="175.0" height="262.09999999999997" stroke="#000" stroke-width="1.1" fill="none"/>
<text x="60.77" y="291" font-family="Liberation Sans, sans-serif" font-size="10" text-anchor="middle" fill="#262626">150°E</text>
<text x="94.42" y="291" font-family="Liberation Sans, sans-serif" font-size="10" text-anchor="middle" fill="#262626">180°</text>
<text x="128.07" y="291" font-family="Liberation Sans, sans-serif" font-size="10" text-anchor="middle" fill="#262626">150°W</text>
<text x="161.73" y="291" font-family="Liberation Sans, sans-serif" font-size="10" text-anchor="middle" fill="#262626">120°W</text>
<text x="195.38" y="291" font-family="Liberation Sans, sans-serif" font-size="10" text-anchor="middle" fill="#262626">90°W</text>
<text x="119.1" y="9.3" font-family="Liberation Sans, sans-serif" font-size="11.3" text-anchor="middle" fill="#262626">(a) ICM-P1</text>
<clipPath id="cp1"><rect x="231.6" y="12.3" width="174.79999999999998" height="262.09999999999997"/></clipPath>
<g clip-path="url(#cp1)">
<rect x="231.6" y="12.3" width="174.79999999999998" height="262.09999999999997" fill="#fff"/>
<path d="M329.1 240.3 335.8 240.5 344.2 239.1 353.1 238.8 356 238 356.5 237.5 356 237.4 347.6 237.3 332.4 236.8 323.3 237.5 320.2 238.8ZM325.7 167.8 337.5 167.7 350.4 166.4 347.1 165.1 344.2 164.7 330.8 163.9 325.7 164.2 322.4 165.1 319.8 166.4ZM303.9 166.5 310.6 166.9 315.3 166.4 314 166 308.9 165.4ZM356 166.5 357 166.4 356 166.1 354.5 166.4ZM335.8 100.7 356 101 360.1 99.2 359.9 97.9 350.9 97.5 326.3 99.2ZM293.8 28.1 298.8 29.4 307.2 28.2 317.3 29.2 332.4 27.9 350.9 28.3 358.1 26.8 360.6 25.5 359.3 24.1 356 23.3 352.6 23.2 340.8 24.9 316.9 25.5 309.9 26.8 307.2 27.9 300.5 27.1Z" fill="#2316fa" stroke="#2316fa" stroke-width="0.4" fill-rule="evenodd"/>
<path d="M334.1 245.6 339.2 245.6 345.9 244.5 355 244.1 361 242.1 367.7 241.6 374.2 238.8 376 237.5 375.4 236.2 367.7 234.6 361 235.1 329.1 235 310.6 236.5 297.2 236.7 288.7 238.6 288.2 238.8 288.4 240.2 297.2 244 300.5 243.9 305.6 242.4 312.3 242.2ZM327.8 240.2 320.2 238.8 323.3 237.5 332.4 236.8 349.3 237.3 356.5 237.5 353.1 238.8 344.2 239.1 334.1 240.5ZM303.9 169.1 310.6 169.4 319 169 330.8 170 347.6 168.8 371.1 168.7 375.3 167.7 376.8 166.4 376.1 165.1 374.1 163.8 367.7 162.2 359.3 162.2 344.2 160.9 327.4 160.9 319 161.8 300.5 162.1 292.1 164.4 288.7 164.7 286.7 166.4ZM325.3 167.7 319.8 166.4 322.4 165.1 327.4 164 345.9 164.9 350.4 166.4 337.5 167.7ZM303.2 166.4 308.9 165.4 315.3 166.4 308.9 166.9ZM297.2 103.3 307.2 103.7 320.7 102.7 340.8 103.8 356 103.6 366.1 101.4 370.9 99.2 371.8 97.9 362.7 96.6 352.6 96.1 296.6 97.9 287.4 99.2 286.5 100.5 288.7 102.1ZM334.2 100.5 326.3 99.2 352.6 97.4 359.9 97.9 360.1 99.2 356 101ZM298.8 32.3 308.9 31.5 317.3 32.8 325.7 31.2 330.8 30.9 339.2 31.3 347.6 32.7 350.9 32.5 354.3 31.5 361 28.2 370.6 25.5 370.9 24.2 359.3 21.9 356 21.1 352.6 21.1 340.8 22.9 317.3 23.4 307.2 24.9 298.8 24.9 292.1 25.7 287.6 26.8 285.5 28.1 285.5 29.4 288.7 31ZM293.7 28.1 300.5 27.1 307.2 27.9 309.9 26.8 316.9 25.5 340.8 24.9 352.6 23.2 356 23.3 359.4 24.2 360.6 25.5 358.1 26.8 350.9 28.3 332.4 27.9 317.3 29.2 307.2 28.2 298.8 29.4Z" fill="#372dfa" stroke="#372dfa" stroke-width="0.4" fill-rule="evenodd"/>
<path d="M292.1 248.2 297.2 248.6 305.6 247.8 327.4 247.5 337.5 247.8 356 247.1 369.4 246 372 245.4 374.5 244.1 384.8 237.5 384.7 236.2 381.4 234.9 372.8 233.2 367.7 232.5 359.3 233.1 330.8 232.8 308.9 234.3 298.8 234.5 293.8 235.3 283.3 237.5 279.6 238.8 279.9 240.2 285.4 242.8 288.5 246.7ZM332.9 245.4 312.3 242.2 305.6 242.4 300.5 243.9 297.2 244 288.4 240.2 288.2 238.8 288.7 238.6 297.2 236.7 310.6 236.5 330.8 234.9 361 235.1 367.7 234.6 375.4 236.2 376 237.5 374.2 238.8 367.7 241.6 361 242.1 356 244 345.9 244.5 339.2 245.6ZM305.6 171.7 310.6 172.1 320.7 171.5 330.8 172.4 347.6 170.9 367.7 171.4 374.5 170.1 381.5 167.7 383 166.4 382.1 165.1 377.8 162.2 374.5 160.6 369.4 159.5 352.6 158.6 345.9 158.2 334.1 158.8 325.7 158.3 300.5 159.1 288.7 160 282 161.6 278.7 163 277 164.2 276 166.4 277 167.9 280.3 168.8 293.8 169.8ZM303.2 169 286.7 166.4 288.7 164.7 292.1 164.4 300.5 162.1 319 161.8 327.4 160.9 344.2 160.9 361 162.3 369.4 162.4 372.8 163.2 376.1 165.1 376.8 166.4 375.3 167.7 369.4 168.9 347.6 168.8 330.8 170 319 169 310.6 169.4ZM288.7 104.7 305.6 105.5 320.7 104.8 352.6 105.2 362.2 104.5 369.2 103.2 381.1 99.2 382.6 97.9 377.2 96.6 371.1 95.9 352.6 94.2 344 95.3 300.5 96.2 290.4 97.1 280.7 99.2 279.5 100.5 280.5 101.9 283.2 103.2ZM296 103.2 288.7 102.1 286.5 100.5 287.4 99.2 296.6 97.9 352.6 96.1 362.8 96.6 371.8 97.9 370.9 99.2 366.1 101.4 356 103.6 340.8 103.8 320.7 102.7 307.2 103.7ZM292.1 36.1 303.9 36.6 354.7 34.7 359.5 33.4 371.3 28.1 382.9 25.9 386.1 24.2 384 22.8 367.7 21.1 354.3 18.9 340.8 20.8 317.3 21.2 307.2 22.7 297.2 22.8 290.4 23.8 282.3 26.8 280.1 28.1 279.5 29.4 284.8 32.1 288.7 35.3ZM297.5 32.1 288.7 31 285.5 29.4 285.5 28.1 287.6 26.8 293.8 25.4 307.2 24.9 317.3 23.4 340.8 22.9 352.6 21.1 356 21.1 361 22.2 370.9 24.2 370.6 25.5 361 28.2 354.3 31.5 350.9 32.5 347.6 32.7 339.2 31.3 330.8 30.9 325.7 31.2 317.3 32.8 308.9 31.5 300.5 32.4Z" fill="#504afa" stroke="#504afa" stroke-width="0.4" fill-rule="evenodd"/>
<path d="M288.7 249.5 295.5 250.3 305.6 249.6 356 248.7 369.4 247.9 382.3 245.4 386.2 243.7 391.6 237.5 391.9 236.2 387.9 234.1 374.5 231.1 367.7 230.3 359.3 230.9 332.4 230.7 317.3 231.3 297.2 232.5 280.3 235.6 275.7 237.5 274.3 238.8 274.4 240.2 281 246.7ZM291.4 248.1 288.5 246.7 285.4 242.8 279.9 240.2 279.6 238.8 283.3 237.5 295.5 235 330.8 232.8 359.3 233.1 367.7 232.5 374.5 233.5 382.9 235.4 384.7 236.2 384.8 237.5 383.4 238.8 372.8 245 367.7 246.3 337.5 247.8 307.2 247.8 297.2 248.6ZM307.2 178.4 314 178.6 322.4 177.1 332.4 177.7 337.1 176.9 342.5 174.5 345.9 174 350 174.3 353.5 176.9 356 177.3 366.6 176.9 381.2 170.2 392.1 167.7 394.2 166.4 380.1 159.8 372.8 157.8 364.4 157.1 345.9 156.3 334.1 156.9 324 156.3 305.6 156.8 293.8 156.6 288.7 156.7 279.8 158.5 275.3 161.4 273 165.1 273.3 167.7 277 171.5 278.7 172.1 294.2 173 298.4 174.3 302.6 176.9ZM305.3 171.7 293.8 169.8 280.3 168.8 277 167.9 276 166.4 277 164.2 278.7 163 282 161.6 288.7 160 300.5 159.1 325.7 158.3 334.1 158.8 345.9 158.2 354.3 158.7 371.1 159.7 375.8 161.1 380.5 163.8 383 166.4 381.5 167.7 372.8 170.6 366.1 171.4 345.9 170.9 330.8 172.4 320.7 171.5 310.6 172.1ZM287.1 106 305.6 106.6 320.7 105.9 350.9 106.4 371.3 104.5 384.5 102.1 388.1 100.5 390.8 97.9 388.5 96.6 371.4 94 369.4 92.8 367.7 91.9 361 90.4 356 88.4 352.6 88 337.5 89.1 324 87.9 307.2 91.3 300.5 90.1 297.2 90.3 290 92.6 286.8 95.3 284.1 96.6 277 98.6 275.5 99.2 274.4 100.5 276 103.2 278.4 104.5ZM287.6 104.5 280.5 101.9 279.5 100.5 280.7 99.2 288.7 97.3 298.8 96.2 344 95.3 352.6 94.2 372.8 96.1 382.6 97.9 381.1 99.2 369.2 103.2 359.3 104.8 342.5 105.3 319 104.8 305.6 105.5ZM287.1 37.5 303.9 38.3 335.8 36.8 350.9 36.7 367.7 33.8 374.5 32.1 381.2 31.2 394.1 24.2 393.6 22.8 386.2 20.5 376.1 19.8 354.3 17.1 340.8 18.8 315.6 19.4 305.6 20.8 297.2 20.8 288.7 21.9 282.3 24.2 274 28.1 272.3 29.4 273.8 30.7 279.6 33.4 282.6 36ZM291 36 288.7 35.3 284.8 32.1 279.5 29.4 280.1 28.1 282.3 26.8 290.4 23.8 297.2 22.8 307.2 22.7 317.3 21.2 340.8 20.8 354.3 18.9 369.4 21.3 384 22.8 386.1 24.2 382.9 25.9 371.3 28.1 359.5 33.4 354.7 34.7 303.9 36.6Z" fill="#6864fa" stroke="#6864fa" stroke-width="0.4" fill-rule="evenodd"/>
<path d="M293.8 252 305.6 251.1 356 250.2 371.1 249.3 389.6 246.1 393.1 244.1 396.3 240.1 399.7 238.9 401.4 239.3 404.7 242.2 406.4 242.9 406.4 231.7 399.7 234 396.3 233.6 389.6 231.7 379.5 229.4 367.7 228.4 359.3 229 332.4 229 315.4 229.6 295.5 230.9 278.7 233.1 275.3 234.5 270.5 238.8 270.3 240.2 274 248.1 277 249.2ZM288.4 249.4 281 246.7 274.4 240.2 274.3 238.8 275.7 237.5 282 235.3 298.8 232.3 330.8 230.7 359.3 230.9 367.7 230.3 376.1 231.4 387.9 234.1 391.9 236.2 391.6 237.5 386.2 243.7 382.3 245.4 369.4 247.9 356 248.7 305.6 249.6 295.5 250.3ZM290.4 179.6 312.3 180.1 344.2 178.6 361 178.9 372.2 178.3 380 176.9 382.9 173.4 384.5 172.6 394.6 170.5 401.4 168.1 406.4 167.7 406.4 163 401.4 162.5 398 161 389.6 159.7 382.9 157.9 369.4 155.6 347.6 154.9 334.1 155.3 324 154.6 305.6 155 290.4 154.4 280.3 155.3 277 156.4 272.6 159.8 270.6 163.8 270.4 166.4 270.9 167.7 274.3 174.3 275.3 178.3 277 179 283.7 179ZM306.2 178.3 300.5 175.9 298.4 174.3 294.2 173 278.7 172.1 277 171.5 273.3 167.7 273 165.1 275.6 161.1 280.3 158.3 288.7 156.7 293.8 156.6 305.6 156.8 324 156.3 334.1 156.9 345.9 156.3 366.1 157.1 371.1 157.5 377.8 159 394.2 166.4 392.1 167.7 380.9 170.4 366.6 176.9 356 177.3 353.5 176.9 350 174.3 345.9 174 342.5 174.5 337.1 176.9 332.4 177.7 322.4 177.1 314 178.6ZM288.7 107.1 305.6 107.8 319 107 350.9 107.6 385.1 104.5 401.4 100.8 406.4 100.7 406.4 96.5 401.4 96.4 389.6 94.9 385.5 94 382.4 91.3 374.5 86.8 369.4 85.6 361 85.8 349.3 84.8 334.1 85.2 325.7 84.7 308.9 86.7 298.8 85.8 288.7 86.9 282.1 90 276.7 96.6 271.5 99.2 270.6 100.5 271.9 104.5 274.4 105.8ZM285.4 105.8 277 103.9 274.9 101.9 274.4 100.5 275.5 99.2 284.1 96.6 286.8 95.3 288.7 93.3 292.1 91.8 298.8 90.1 307.2 91.3 324 87.9 337.5 89.1 352.6 88 356 88.4 362.7 91 367.7 91.9 371.1 93.7 388.5 96.6 390.8 97.9 388.1 100.5 384.5 102.1 367.7 105 356 106.2 344.2 106.5 320.7 105.9 303.9 106.6ZM298.8 40.1 307.2 40.3 337.5 38.4 350.9 38.5 372.8 34.9 381.2 34.4 386.9 33.4 390.5 32.1 401.4 25.3 406.4 24.4 406.4 21.1 401.4 21.3 386.2 17.8 371.1 17.2 352.6 15.6 340.8 17.1 315.6 17.8 305.6 19 295.5 19.2 288.7 20 282.3 21.5 266.7 28.1 264.7 29.4 265.2 30.7 271 33.4 274.6 36 277.5 37.3 288.7 39.5ZM286.4 37.3 282.6 36 279.6 33.4 273.8 30.7 272.3 29.4 274 28.1 282.3 24.2 288.7 21.9 297.2 20.8 305.6 20.8 315.6 19.4 340.8 18.8 354.3 17.1 377.8 20 387.9 20.9 393.6 22.8 394.1 24.2 386.6 28.1 382.8 30.7 367.7 33.8 349.3 36.8 335.8 36.8 303.9 38.3Z" fill="#807efb" stroke="#807efb" stroke-width="0.4" fill-rule="evenodd"/>
<path d="M236.6 274.4 242.4 274.4 241.9 270.4 241.2 269.1 240 267.9 238.3 267.9 237.1 269.1 236.1 273.1 236 274.4ZM290.4 253.4 295.5 253.8 305.6 252.8 367.7 251.3 386.2 249.1 398 246.4 406.4 247 406.4 242.9 404.7 242.2 401.4 239.3 399.7 238.9 396.3 240.1 393.1 244.1 389.6 246.1 369.4 249.5 292.1 251.9 277 249.2 274 248.1 270.3 240.2 270.5 238.8 271.7 237.5 277 233.6 290.4 231.6 315.6 229.6 332.4 229 359.3 229 367.7 228.4 380.6 229.6 398 233.9 401.4 233.6 406.4 231.7 406.4 227.1 399.7 228.8 396.3 228.9 369.4 227 359.3 227.6 317.3 228.4 295.5 229.6 277 231.3 272 233.6 266 238.8 265.4 240.2 266.3 244.1 265.4 248.1 267.3 249.4 273.6 251.1 283.7 252ZM275.3 181 312.3 181.2 322.4 180.4 344.2 179.8 361 180 376.1 179.1 397.6 176.9 399.7 173 401.7 171.7 406.4 170.8 406.4 167.7 401.4 168.1 394.6 170.5 383.4 173 380 176.9 367.7 178.6 359.3 179 342.5 178.7 312.3 180.1 277 179 275.2 178.3 274.3 174.3 270.9 167.7 270.4 165.1 271 162.4 272.6 159.8 277 156.4 280.3 155.3 288.7 154.4 367.7 155.5 379.8 157.2 389.6 159.7 398 161 401.4 162.5 406.4 163 406.4 157.3 389.6 156.8 369.4 154.3 345.9 153.6 334.1 154 324 153.3 305.6 153.4 288.7 152.7 279 153.2 274.4 154.5 270 157.2 268.2 159.8 267.7 162.4 267.9 166.4 270.9 173 271.3 179.6ZM256.8 132.2 260.2 132.4 261.4 130.8 261.8 128.2 260.2 123.7 255.1 122.1 251.8 122.9 250.3 124.3 250.5 125.6 252.5 129.5 255.1 131.7ZM288.7 108.5 305.6 109.3 319 108.3 342.5 109.3 350.9 109.2 393 105 406.4 104.7 406.4 100.7 401.4 100.8 385.1 104.5 354.3 107.5 342.5 107.8 319 107 305.6 107.8 288.7 107.1 275.3 106 271.9 104.5 270.6 100.5 271.5 99.2 276.7 96.6 282.1 90 288.7 86.9 300.5 85.8 308.9 86.7 325.7 84.7 334.1 85.2 349.3 84.8 361 85.8 371.1 85.8 375.7 87.4 380.6 90 385.5 94 393 95.5 406.4 96.5 406.4 94.3 399.7 93.6 393 90.2 386.5 86.1 372.8 83.4 361 83.7 345.9 82.8 325.7 82.8 308.9 84.5 298.8 83.6 288.7 84.3 280.3 85.8 276.6 87.4 275.3 89.1 271.8 96.6 268.3 99.2 267.6 100.5 267.9 104.5 268.5 105.8 270.3 106.7 275.3 107.6ZM287.1 41.4 305.6 42.2 337.5 40.2 354.3 40 371.1 37.1 384.5 36.4 397.6 33.4 406.4 30.6 406.4 24.4 401.4 25.3 390.5 32.1 386.2 33.5 381.2 34.4 371.1 35.1 354.3 38.1 337.5 38.4 305.6 40.3 288.7 39.5 277 37.1 271 33.4 265.2 30.7 264.7 29.4 280.3 22.2 287.5 20.2 315.6 17.8 340.8 17.1 354.3 15.5 376.1 17.6 386.2 17.8 401.4 21.3 406.4 21.1 406.4 15.8 401.4 17.1 398 17.2 387.9 15.5 376.1 15.6 354.3 14.2 340.8 15.7 315.6 16.4 305.6 17.5 295.5 17.7 283.7 19.1 277 20.8 266.9 24.6 260.2 29 259.4 30.7 263.5 34.7 269.2 37.3 277 39.6Z" fill="#9998fc" stroke="#9998fc" stroke-width="0.4" fill-rule="evenodd"/>
<path d="M233.3 274.4 236 274.4 236.6 269.9 238.3 267.9 240 267.9 241.7 269.9 242.4 274.4 247.8 274.4 248.4 268 249.5 266.5 250.1 266.1 251.8 266.5 255.1 268.6 256.8 268.2 260.2 264.9 261.8 261.2 261 258.6 262.4 256 266.9 254.2 282 253.9 295.5 255.6 305.6 254.4 369.4 252.9 386.2 251.3 398 249.2 406.4 249.4 406.4 247 399.7 246.3 386.2 249.1 367.7 251.3 305.6 252.8 293.8 253.8 283.7 252 275.3 251.5 267.3 249.4 265.4 248.1 266.3 242.8 265.4 240.2 266 238.8 273.6 232.5 279.2 230.9 317.3 228.4 359.3 227.6 367.7 227 398 228.9 406.4 227.1 406.4 224.4 389.6 225.9 369.4 225.9 315.6 227.5 279.6 229.6 273.6 230.5 269.3 232.3 265.2 235.1 257.9 238.8 257.2 240.2 257.4 242.8 254.5 250.7 248.4 258.8 246.7 259.7 243.4 260.2 231.6 260.2 231.6 274.4ZM233.3 214.1 235.5 212.5 237.6 209.9 239.1 207.2 239.5 204.6 239.6 203.3 237.3 200.6 234.9 195.4 233.3 193.5 231.6 192.7 231.6 214.7ZM245 207.9 246.7 208.5 250.1 208.3 260.2 204.4 261.2 203.3 262.5 195.4 262.6 188.8 262.3 187.5 258.6 184.8 256.8 184.3 253.4 184.8 249.4 187.5 248.8 192.7 247.2 198 245 201.5 242.8 203.3 243.1 205.9ZM271.9 182.5 275.3 182.9 285.4 182.1 312.3 182.3 322.4 181.5 342.5 180.9 361 181 396.3 179.2 406.4 177.3 406.4 170.8 401.7 171.7 399.7 173 397.6 176.9 376.1 179.1 361 180 344.2 179.8 322.4 180.4 312.3 181.2 275.3 181 271.3 179.6 270.9 173 267.7 165.1 268.2 159.8 270 157.2 271.8 155.9 278.7 153.3 288.7 152.7 305.6 153.4 324 153.3 334.1 154 345.9 153.6 367.7 154.1 389.6 156.8 406.4 157.3 406.4 154.9 398 154.4 389.6 154.7 367.7 152.9 334.1 152.8 324 152 305.6 152.1 288.7 151.2 280.3 151.2 275.3 151.8 265.8 154.5 264.3 155.9 263.4 158.5 263.4 161.1 264.2 165.1 266.9 169.3 268.3 173 267.2 179.6 268.6 180.9ZM258.5 137.5 261.9 136.9 265.2 133.5 266.3 129.5 265.4 122.9 263.3 120.3 260.2 118.4 253.4 116.9 248.4 117.2 245 117.7 242.2 119 240.6 121.6 240.5 124.3 245 132.3 248.4 135.8 255.1 137.3ZM256.6 132.2 255.1 131.7 252.5 129.5 250.8 126.9 250.3 124.3 251.8 122.9 253.4 122.3 256.8 122.5 260.7 124.3 261.8 129.5 260.2 132.4ZM342.5 111.1 356 110.7 374.5 108.4 384.5 108 393 107 406.4 107.4 406.4 104.7 393 105 354.3 109.1 342.5 109.3 319 108.3 305.6 109.3 271.9 107.2 268.5 105.8 267.9 104.5 267.6 100.5 268.3 99.2 271.8 96.6 275.3 89.1 276.6 87.4 282 85.5 295.5 83.7 308.9 84.5 324 82.9 345.9 82.8 356.8 83.4 361 83.7 371.1 83.2 382.9 85.1 386.5 86.1 393 90.2 399.7 93.6 406.4 94.3 406.4 87.9 398.4 84.7 371.1 81 361 81.9 345.9 80.8 325.7 81 308.9 82.6 298.8 81.5 293.8 81.7 277 83.8 273.6 85.2 271 87.4 268.1 96.6 264.9 100.5 264.8 105.8 268.6 109 271.9 109.6 295.5 110 305.6 111 319 109.8ZM232.1 66.3 235 60.7 237.8 57.1 235 56.3 231.6 56.2 231.6 67ZM258.5 44.7 260.2 44.8 261.9 44.2 265.2 41.9 266.9 41.5 278.7 42.8 303.9 43.5 339.2 41.7 354.3 41.5 371.1 39.5 382.9 39.4 396.3 36.8 406.4 34.2 406.4 30.6 397.6 33.4 384.5 36.4 371.1 37.1 354.3 40 337.5 40.2 305.6 42.2 288.7 41.6 277 39.6 270.3 37.7 265.9 36 261.9 33.3 259.4 30.7 259.6 29.4 268 24.2 278.7 20.2 285 18.9 315.6 16.4 340.8 15.7 354.3 14.2 376.1 15.6 387.9 15.5 398 17.2 401.4 17.1 406.4 15.8 406.4 12.4 399.7 14 396.3 14.3 387.9 13.4 376.1 14 354.3 13 340.8 14.3 295.5 16.3 282 17.6 268.6 19.6 265.2 21 260.8 25.5 255.7 29.4 255.3 30.7 255.8 32.1 259.5 38.6 257.2 43.9Z" fill="#b2b2fd" stroke="#b2b2fd" stroke-width="0.4" fill-rule="evenodd"/>
<path d="M248.4 274.4 260.9 274.4 261.5 271.8 263.5 267.8 269.3 258.6 280.3 256.2 285.4 256.3 293.8 257.5 305.6 256.1 372.8 254.6 399.7 251.9 406.4 251.9 406.4 249.4 403 249.3 398 249.2 386.2 251.3 367.7 253 305.6 254.4 295.5 255.6 282 253.9 266.9 254.2 262.4 256 261 258.6 261.8 261.2 260.2 264.9 256.8 268.2 255.1 268.6 251.8 266.5 250.1 266.1 249.5 266.5 248.4 268 248 270.4 247.8 274.4ZM233.3 260.3 245 260.1 248.4 258.8 254.5 250.7 257.4 242.8 257.2 240.2 257.9 238.8 265.2 235.1 269.3 232.3 273.6 230.5 279.6 229.6 332.4 226.8 393 225.8 406.4 224.4 406.4 222.4 403 222.7 386.2 224.5 317.3 226.4 277 228.6 271.9 229.4 258.5 233.2 255.4 234.9 253.4 236.6 252 238.8 250.8 244.1 247 252 245 254.6 243.4 255.8 240 256.9 236.6 256.9 231.6 255.9 231.6 260.2ZM233.3 218.1 248.4 216.3 260.2 216.9 262.2 216.4 262.9 215.1 263 209.9 265.2 203.3 266.1 194.1 267.5 190.1 269.1 187.5 268.7 186.2 270.3 185.7 285.4 183.4 312.3 183.4 342.5 181.9 362.7 181.9 396.3 180.8 406.4 179.4 406.4 177.3 396.3 179.2 362.7 181 342.5 180.9 322.4 181.5 312.3 182.3 285.4 182.1 275.3 182.9 271.9 182.5 268.6 180.9 267.2 179.6 268.3 173 266.9 169.3 264.2 165.1 263.4 161.1 263.6 157.2 264.3 155.9 266.9 154.1 274.7 151.9 280.3 151.2 305.6 152.1 324 152 334.1 152.8 367.7 152.9 389.6 154.7 398 154.4 406.4 154.9 406.4 153 399.7 152.5 389.6 153.1 367.7 151.8 334.1 151.6 325.7 150.9 305.6 150.8 280.3 149.5 266.9 150.6 260.9 151.9 257.6 153.2 256.3 154.5 256.7 166.4 257.2 167.7 258.5 168.8 261.9 169.8 263.5 171.3 264.1 173 263.6 174.3 261.9 174.6 256.8 172.6 255.1 173.3 251.8 173.6 248.4 176.2 247.6 178.3 248.1 182.2 245 184.6 240 186.4 231.6 187.2 231.6 192.7 233.3 193.5 234.9 195.4 237.3 200.6 239.6 203.3 239.1 207.2 237.6 209.9 235 213 231.6 214.7 231.6 218.2ZM244 207.2 243.1 205.9 242.8 203.3 245 201.5 247.2 198 248.8 192.7 249.4 187.5 251.8 185.7 255.1 184.4 256.8 184.3 260.2 185.7 262.3 187.5 262.7 190.1 262.2 198 261.2 203.3 260.2 204.4 250.1 208.3 246.7 208.5ZM246.7 142.7 248.4 143.1 253.8 141.4 261.9 140.5 265.2 138.9 266.7 137.4 268.6 133.5 269.3 130.8 269.2 120.3 268 116.3 266 115 268.9 113.7 274.2 112.4 280.3 111.6 295.5 111.8 307.2 113 319 111.6 345.9 113.4 356 112.8 372.8 110.7 391.3 109.7 406.4 110.8 406.4 107.4 394.6 106.9 384.5 108 374.5 108.4 356 110.7 345.9 111.1 319 109.8 305.6 111 295.5 110 270.3 109.4 266.9 108 264.8 105.8 264.7 104.5 264.9 100.5 268.1 96.6 271 87.4 273.6 85.2 277 83.8 292.1 81.8 298.8 81.5 308.9 82.6 325.7 81 345.9 80.8 361 81.9 371.1 81 396.3 84.2 406.4 87.9 406.4 83 393 80.5 372.8 79 359.3 80.1 345.9 79 325.7 79.2 308.9 80.7 295.5 79.5 280.3 80.5 273.6 81.8 270 83.4 267 86.1 265.1 96.6 262.2 100.5 262 103.2 260.7 105.8 261.3 108.4 265.1 113.7 263.5 114.1 258.5 112.7 255.1 110.8 253.8 108.4 252.1 107.1 248.4 106.8 243.6 108.4 241.7 109.6 236 113.7 232.3 117.7 232 120.3 232.6 122.9 238.3 130.1 241.5 137.4ZM257.3 137.4 249.2 136.1 246.7 134.6 240.5 124.3 240.6 121.6 242.2 119 245 117.7 250.1 117 255.1 117.1 260.2 118.4 263.3 120.3 265.4 122.9 266.3 129.5 265.2 133.5 261.9 136.9 260.2 137.5ZM233.1 72.9 237.6 65 240.7 62.3 245 62 253.4 65 255.1 64.9 258.5 62.9 261.9 58.4 263 51.8 265.2 46.5 268.6 45 305.6 44.7 339.2 42.9 352.6 42.8 366.1 41.5 381.2 41.5 397.1 40 406.4 37.7 406.4 34.2 396.3 36.8 382.9 39.4 371.1 39.5 354.3 41.5 339.2 41.7 303.9 43.5 278.7 42.8 266.9 41.5 265.2 41.9 261.9 44.2 260.2 44.8 258.5 44.7 257.2 43.9 259.5 38.6 255.8 32.1 255.3 30.7 255.7 29.4 266.9 20 278.7 18.1 295.5 16.3 340.8 14.3 352.6 13 376.1 14 387.9 13.4 396.3 14.3 399.7 14 406.4 12.4 348.7 12.3 340.8 13.1 315.6 14 275.3 16.5 266.9 16.4 263.5 17.8 258.7 24.2 255.1 26.9 248.4 28 245 28 238.3 26.5 231.6 27.6 231.6 33.5 238.3 34.4 245 34 252.8 37.3 252.6 38.6 250.1 40.1 241.7 42.1 236.7 43.9 234.4 47.9 231.6 49.5 231.6 56.2 237.8 57.1 235 60.7 231.6 67 231.6 73.8Z" fill="#ccccff" stroke="#ccccff" stroke-width="0.4" fill-rule="evenodd"/>
<path d="M261.9 274.4 268.8 274.4 269 273.1 272.8 269.1 274.6 263.9 278.7 260 281.3 258.6 285.4 258.5 293.8 259.5 303.9 258.1 332.4 257 382.9 256.5 406.4 254.6 406.4 251.9 399.7 251.9 384.5 253.8 371.1 254.7 332.4 255.2 305.6 256.1 295.5 257.5 283.7 256.1 280.3 256.2 269.3 258.6 261.5 271.8 260.9 274.4ZM233.3 256.2 236.6 256.9 240 256.9 243.4 255.8 245 254.6 247 252 250.8 244.1 252 238.8 253.4 236.6 256.8 233.9 273.6 229.1 317.3 226.4 357.7 225.6 387.9 224.4 406.4 222.4 406.4 219.7 401.1 220.4 386.1 223 359.3 224.6 334.1 224.4 288.7 227 275.3 226.9 265.2 229.1 253.4 230.5 250.6 232.3 248.9 234.9 247.4 238.8 246.7 243.6 243.3 250.7 241.7 252.1 238.3 253 231.6 250.4 231.6 255.9ZM233.3 220.8 246.7 219.3 256.8 220.1 261.9 220 266.3 219.1 268.8 217.8 270.1 216.4 267.8 208.5 268.5 198 269.2 195.4 270.9 192.7 273.6 190.3 279.2 186.2 282 185.2 287.1 184.6 312.3 184.6 322.4 183.5 342.5 182.9 361 183.1 384.5 182.1 396.3 182.5 406.4 181.2 406.4 179.4 396.3 180.8 362.7 181.9 342.5 181.9 312.3 183.4 285.4 183.4 270.3 185.7 268.7 186.2 269.1 187.5 267.5 190.1 266.1 194.1 265.2 203.3 263 209.9 262.9 215.1 262.2 216.4 260.2 216.9 248.4 216.3 231.6 218.2 231.6 220.8ZM233.3 187.1 241.7 186.1 245 184.6 248.1 182.2 247.6 178.3 248.4 176.2 251.8 173.6 255.1 173.3 256.8 172.6 261.9 174.6 263.6 174.3 264.1 173 263.5 171.3 261.9 169.8 258.5 168.8 256.8 166.8 256.2 155.9 256.3 154.5 257.6 153.2 265.2 150.8 280.3 149.5 305.6 150.8 325.7 150.9 334.1 151.6 367.7 151.8 387.9 153 398 152.5 406.4 153 406.4 151.3 401.4 151 387.9 151.6 367.7 150.7 335.8 150.7 324 149.8 302.2 149.5 277 147.3 261.9 147.2 258.7 146.6 265.2 145.8 266.9 145.1 267.8 144 272 132.2 272.1 125.6 272.9 121.6 275.7 116.3 277.2 115 280.3 114.1 295.5 113.9 307.2 115.3 319 113.9 347.6 115.8 369.4 113.8 389.6 113.1 403 115.3 406.4 115.2 406.4 110.8 391.3 109.7 372.8 110.7 356 112.8 345.9 113.4 319 111.6 307.2 113 295.5 111.8 280.3 111.6 277 111.9 268.9 113.7 266 115 268 116.3 269.2 120.3 269.3 130.8 268.6 133.5 266.7 137.4 265.2 138.9 261.9 140.5 253.8 141.4 248.4 143.1 246.7 142.7 245 141.5 241.5 137.4 238.3 130.1 232.6 122.9 232 120.3 232.3 117.7 236 113.7 243.6 108.4 248.4 106.8 252.1 107.1 253.8 108.4 255.1 110.8 258.5 112.7 263.5 114.1 265.1 113.7 260.9 107.1 260.7 105.8 262 103.2 262.2 100.5 265.1 96.6 267 86.1 270.3 83.3 275.3 81.3 280.3 80.5 295.5 79.5 308.9 80.7 325.7 79.2 345.9 79 359.3 80.1 371.1 78.9 393 80.5 406.4 83 406.4 79 387.9 77.3 371.1 77.2 359.3 78.3 345.9 77.4 327.4 77.6 310.6 78.9 298.8 77.9 285.4 77.9 273.6 78.7 265.9 80.8 264.3 82.1 262.7 84.7 262.2 95.3 261.9 96.6 260.2 98.5 256.4 100.5 255.1 101.8 253.4 100.4 250.1 100.4 246.2 103.2 243.4 104.3 236.6 105.9 231.6 106.3 231.6 140.1 236.6 139.9 238.3 141 241.7 145.3 242.4 146.6 241.9 154.5 242.7 158.5 236.6 162.9 233.2 167.7 233 169 237.7 180.9 237.6 182.2 231.6 184.1 231.6 187.2ZM232.6 78.2 235 76.7 239.6 68.9 241.7 67.3 243.4 67.3 245 68.1 248.4 71.4 250.1 72.2 253.4 71.7 260.2 68.2 262 66.3 264.6 59.7 268.6 52.2 270.3 50.8 280.3 47.1 292.1 45.9 305.6 46.2 339.2 44.1 352.6 44 364.4 42.9 381.2 43.2 398 42.3 406.4 40.7 406.4 37.7 397.1 40 381.2 41.5 366.1 41.5 352.6 42.8 339.2 42.9 305.6 44.7 268.6 45 265.2 46.5 263 51.8 261.9 58.4 260.2 61.2 256.8 64.1 255.1 64.9 251.8 64.8 246.7 62.5 243.4 61.8 240.7 62.3 238.7 63.7 234.1 71.6 231.6 73.8 231.6 78.4ZM232.5 49.2 234.4 47.9 236.7 43.9 241.7 42.1 250.1 40.1 252.6 38.6 252.8 37.3 248.4 35.2 243.4 33.8 238.3 34.4 231.6 33.5 231.6 49.5ZM233.3 27.3 238.3 26.5 245 28 248.4 28 255.1 26.9 258.7 24.2 263.5 17.8 266.9 16.4 275.3 16.5 315.6 14 340.8 13.1 348.7 12.3 337.5 12.3 285.4 14.4 275.3 14.1 271.6 12.3 262.7 12.3 261.1 16.3 255.1 23.7 251.8 24.4 248.3 24.2 244.8 22.8 241.7 19.7 238.3 19.4 231.6 22.2 231.6 27.6Z" fill="#e5e5ff" stroke="#e5e5ff" stroke-width="0.4" fill-rule="evenodd"/>
<path d="M277 274.4 278.1 274.4 278.4 271.8 282 266.1 283.7 264.6 287.1 263.5 305.6 261.3 325.7 261.1 335.8 260.4 362.7 260 398 261 406.4 260.4 406.4 257.5 403 257.7 396.3 258.4 381.2 258.7 334.1 258.8 324 259.5 305.6 259.7 293.8 261.2 283.7 261.4 280.3 262.7 278.7 265 275.7 271.8 275.5 274.4ZM282 224.6 287.1 225.2 302.2 225 334.1 222.9 357.7 223.4 386.2 221.1 406.4 215.9 406.4 205.4 394.6 208.9 393.2 209.9 393 210.7 393 215.1 392.2 216.4 389.6 217.8 382.9 219.6 359.3 221.9 334.1 221.2 302.2 223.6 288.7 223.2 284.3 221.7 282.1 216.4 277.7 212.5 275.1 208.5 276.2 199.3 277.7 195.4 282 191.5 288.7 189.2 312.3 188.3 322.4 186.9 340.8 186.2 359.3 186.3 381.2 185.7 398 187.6 406.4 187.5 406.4 183.9 398 185.1 382.9 183.7 361 184.6 340.8 184.3 322.4 185 312.3 186.3 288.7 186.6 283.7 187.5 280.3 189.2 273.4 195.4 272.4 198 271.5 207.2 272.4 211.2 276.5 216.4 276.6 217.8 275.5 221.7 277.2 223ZM332.4 149.4 367.7 149.6 381.2 150.2 389.6 150.2 399.7 149.4 406.4 149.7 406.4 148 379.5 149.1 335.8 148.5 324 147.6 302.2 147.1 288.7 145.7 282 143.4 277.4 140.1 276.5 137.4 278.2 132.2 277.8 126.9 278.2 124.3 280.3 121.7 282 120.8 287.1 119.4 293.8 118.8 307.2 119.5 317.3 118.9 327.4 119.6 337.5 119.6 344.3 120.3 350.9 120.5 364.4 119.4 376.1 120.5 387.9 120 399.7 123.3 406.4 124.4 406.4 120.1 399.7 119.6 391.3 117 387.9 116.7 376.1 117.3 364.4 116.9 347.6 118.3 319 116.5 307.2 117.5 295.5 116.4 288.7 116.5 283.7 117 280.3 118.1 275.6 122.9 274.9 125.6 275 132.2 273.2 138.7 274.4 141.4 278 144 285.4 146.5 293.8 147.6 305.6 148.4 325.7 148.7ZM233.3 101 236.6 99.8 239.2 97.9 241.2 95.3 242.2 92.6 242.5 90 236.6 84.8 231.6 83.4 231.6 101.3ZM255.1 93.3 256.9 91.3 256.8 88.7 255.1 86.2 253.4 87.2 251.6 88.7 251 90ZM303.9 76.9 310.6 77.3 324 76.4 344.2 76.1 359.3 76.8 369.4 75.9 389.6 75.5 399.7 75.9 406.4 75.4 406.4 72.8 399.7 74.1 387.9 74.1 359.3 75.6 342.5 75 308.9 76.1 286.1 74.2 282.2 72.9 280.4 71.6 277.9 67.6 274.1 63.7 273.9 62.3 276.2 59.7 286.8 51.8 289.7 50.5 293.8 49.7 303.9 49.7 315.6 48.7 330.8 48.5 340.8 47.3 352.6 47.6 366.1 46.1 379.5 47.7 389.6 47.5 399.7 49.8 406.4 50.3 406.4 44.1 398 45.5 389.6 44.8 379.5 45.4 364.4 44.3 352.6 45.7 340.8 45.5 330.8 46.6 319 46.8 303.9 47.9 293.8 47.7 288.7 48.3 282 50.9 277 55.8 270.3 58.3 268.6 59.6 267.6 63.7 269.5 71.6 270.3 72.9 271.9 73.8 275.3 74.7 287.1 76ZM253.4 18 255.1 17.6 256.9 16.3 257.6 14.9 258.3 12.3 255.1 12.3 250.5 12.3 250.9 16.3Z" fill="#fae2e5" stroke="#fae2e5" stroke-width="0.4" fill-rule="evenodd"/>
<path d="M278.7 274.4 280.3 274.4 280.7 271.8 281.8 270.4 287.1 267 299.8 263.9 305.6 263 325.7 263.1 335.8 262.1 354.3 262.2 362.7 261.8 387.9 264 396.3 265.2 406.4 265.5 406.4 263.9 406.4 260.4 396.3 261.1 362.7 260 303.9 261.4 287.1 263.5 283.7 264.6 282 266.1 278.4 271.8 278.1 274.4ZM288.7 223.2 302.2 223.6 334.1 221.2 359.3 221.9 384.5 219.3 389.8 217.8 392.2 216.4 393 215.1 393 210.7 393.2 209.9 394.6 208.9 406.4 205.4 406.4 202 401.4 203.9 393 206 386.8 208.5 384.6 209.9 383.7 211.2 383.7 215.1 383.1 216.4 379.5 217.8 361 220.4 352.6 220.4 340.8 219.5 334.1 216.7 332.4 216.7 324.5 219.1 317.3 219.5 305.6 221.4 300.5 221.5 296.1 220.4 292.7 216.4 283.7 213.3 280.4 211.2 279.4 209.9 278.5 207.2 279.3 204.6 279.8 199.3 280.5 196.7 282 194.7 285.4 192.6 290.4 191.3 314 189.9 322.4 188.8 340.8 188.1 382.9 187.6 403 190.8 406.4 192.1 406.4 187.5 398 187.6 381.2 185.7 359.3 186.3 340.8 186.2 322.4 186.9 312.3 188.3 290.4 189 285.4 190 280.3 192.5 277.7 195.4 276.2 199.3 275.1 208.5 277.7 212.5 282.1 216.4 284.3 221.7ZM330.8 148.1 387.9 149 399.7 148 406.4 148 406.4 146.3 398 146.6 389.6 147.7 377.8 148 335.8 147.5 324 146.5 302.2 145.9 292.1 144.9 288 144 283.7 142.2 280.4 140.1 279.6 138.7 279.5 136.1 281.7 130.8 280.9 126.9 282 124 283.7 122.8 287.1 121.6 293.8 120.9 335.8 121.3 349.3 122.4 361 121.6 377.8 122.8 387.9 122.9 393.7 124.3 396.9 125.6 400.3 128.2 401 129.5 399.4 134.8 400 136.1 406.4 139.3 406.4 124.4 398.2 122.9 389.6 120.3 386.2 120 376.1 120.5 364.4 119.4 349.3 120.6 337.5 119.6 327.4 119.6 317.3 118.9 307.2 119.5 293.8 118.8 287.1 119.4 280.3 121.7 279 122.9 277.9 125.6 278.2 132.2 276.5 137.4 277.4 140.1 282 143.4 287.3 145.3 295.5 146.6ZM302.2 75.6 310.6 76.1 344.2 75 359.3 75.6 387.9 74.1 399.7 74.1 406.4 72.8 406.4 65.8 403.6 67.6 401.4 70.3 399.5 71.6 396.3 72.1 387.9 72 377.8 73.5 359.3 74.5 342.5 73.9 310.6 74.9 292.1 73.5 289.4 72.9 287.2 71.6 280.8 65 279.5 62.3 280.3 59.7 288.7 53.7 292.1 52.3 295.5 51.7 307.2 51.4 320.7 50.2 330.8 50.4 340.8 49.3 352.6 49.6 364.4 48 377.8 50 389.6 50.4 400 54.4 406.4 56.2 406.4 50.3 399.7 49.8 389.6 47.5 379.5 47.7 366.1 46.1 352.6 47.6 340.8 47.3 330.8 48.5 320.7 48.4 307.2 49.6 292.1 49.9 286.8 51.8 276.2 59.7 273.9 62.3 274.1 63.7 277.9 67.6 280.4 71.6 282.2 72.9 288.7 74.7Z" fill="#f5c8cd" stroke="#f5c8cd" stroke-width="0.4" fill-rule="evenodd"/>
<path d="M280.3 274.4 283.2 274.4 283.7 271.8 287.1 269.7 302.2 265.8 305.6 265.3 315.6 265.3 325.7 265.9 339.2 264.4 352.6 264.9 362.7 264.2 401.4 268.3 405.7 269.1 406 270.4 404.5 274.4 406.4 274.4 406.4 273.1 406.4 265.5 395.7 265.2 387.9 264 362.7 261.8 354.3 262.2 335.8 262.1 325.7 263.1 305.6 263 302.2 263.4 287.1 267 281.8 270.4 280.7 271.8ZM297.2 220.8 300.5 221.5 305.6 221.4 315.6 219.6 324.5 219.1 332.4 216.7 334.1 216.7 340.8 219.5 352.6 220.4 361 220.4 379.6 217.8 383.1 216.4 383.7 215.1 383.7 211.2 384.6 209.9 386.8 208.5 393 206 401.4 203.9 406.4 202 406.4 192.1 404.7 191.2 391.3 188.8 379.5 187.5 340.8 188.1 322.4 188.8 314 189.9 293.8 191 287.1 192 282.8 194.1 280.5 196.7 278.5 207.2 278.7 208.5 280.3 211.1 282 212.4 292.7 216.4 295.5 219.9ZM356 217.8 352.3 216.4 348.3 213.8 343.6 212.5 339.2 212 332.4 211.9 314 213.8 298.8 214.1 288.7 212.4 283.7 209.7 282 207.2 283.3 204.6 284.3 198 285.9 195.4 288.1 194.1 293.8 192.9 324 190.4 372.8 188.9 384.5 189.5 391 191.4 392.4 192.7 394.3 198 398.5 199.3 399.1 200.6 384.5 206.6 370.9 211.2 368.9 212.5 367.7 215.1 366.4 216.4 363.2 217.8ZM376.1 148 387.9 147.8 398 146.6 406.4 146.3 406.4 139.3 400 136.1 399.4 134.8 401 129.5 399.1 126.9 396.9 125.6 391.3 123.5 386.2 122.7 376.1 122.7 364.4 121.6 349.3 122.4 337.5 121.4 314 120.9 292.1 121.1 287.2 121.6 283.4 122.9 281.8 124.3 281.1 125.6 281.7 130.8 279.3 137.4 280.4 140.1 285.4 143 293.8 145.2 305.6 146.1 324 146.5 335.8 147.5ZM350.4 146.6 335.8 146.4 295.5 144.2 287.1 142.2 283.4 140.1 282.4 138.7 282 137.4 282.5 136.1 285.8 132.2 286.3 130.8 285.5 126.9 285.9 125.6 287 124.3 288.7 123.5 293.8 122.8 314 122.5 338.8 122.9 349.3 124.1 364.4 123.3 377.8 125 388 125.6 391.1 126.9 393 129.2 392.1 134.8 393.1 136.1 398 140.1 405.7 142.7 404.5 144 389.6 146.4 379.5 146.9ZM298.8 74.2 308.9 74.9 342.5 73.9 359.3 74.5 379.5 73.3 387.9 72 396.3 72.1 399.5 71.6 401.4 70.3 403.6 67.6 406.4 65.8 406.4 56.2 399.7 54.3 391.3 50.9 387.9 50.2 377.8 50 364.4 48 352.6 49.6 340.8 49.3 330.8 50.4 319 50.3 292.1 52.3 288.7 53.7 280.3 59.6 279.5 62.3 279.9 63.7 287.1 71.5 288.7 72.6 293.8 73.8ZM300.7 72.9 295.5 72 292.1 70.7 285 65 283.1 62.3 283.8 59.7 285.3 58.4 288.7 56.4 293.8 54.4 320.7 52.2 330.8 52.6 342.5 51.5 352.6 52 362.7 50.2 382.9 53.2 387.9 53.7 393 55 403 58.3 404.8 59.7 405.4 61 405.1 62.3 403.7 63.7 399.7 66.2 396.3 67.5 387.9 68 377.8 71.6 367.7 72.1 361 73.2 344.2 72.3 310.6 73.6Z" fill="#f2afb6" stroke="#f2afb6" stroke-width="0.4" fill-rule="evenodd"/>
<path d="M283.7 274.4 286.5 274.4 287.4 271.8 288.7 271 303.9 267.9 327.4 268.1 337.5 266.9 352.6 267.2 361 266.6 377.8 267.7 389.8 269.1 392.5 270.4 393.2 273.1 392.9 274.4 404.5 274.4 406 270.4 405.7 269.1 404.7 268.8 361 264.2 352.6 264.9 337.5 264.4 325.7 265.9 317.3 265.3 303.9 265.5 287.1 269.7 283.7 271.8 283.2 274.4ZM356 217.8 363.2 217.8 366.4 216.4 367.7 215.1 368.9 212.5 370.9 211.2 384.5 206.6 399.1 200.6 398.5 199.3 394.3 198 392.4 192.7 391 191.4 384.5 189.5 372.8 188.9 322.4 190.5 293.8 192.9 288.1 194.1 285.9 195.4 284.3 198 283.3 204.6 282 207.2 282.5 208.5 283.9 209.9 288.7 212.4 293.8 213.6 300.5 214.2 315.6 213.7 334.1 211.8 339.2 212 343.6 212.5 348.3 213.8 352.3 216.4ZM293.5 211.2 288.7 209.6 286.3 207.2 288.5 203.3 289.2 199.3 290 198 293.8 195.6 305.6 193.6 312.3 193.5 322.4 192.2 339.2 191.4 350.9 191.6 372.8 190.6 382.9 191.9 384.6 192.7 385.5 194.1 386.2 198 389.6 200.6 388.3 202 382.9 204.6 372.8 207.7 362.7 209 349.3 209.9 334.1 209.6 314 211.7 305.6 212ZM350.9 146.7 379.5 146.9 389.6 146.4 404.5 144 405.7 142.7 398 140.1 393.1 136.1 392.1 134.8 393 129.2 391.1 126.9 388 125.6 377.8 125 364.4 123.3 349.3 124.1 337.5 122.8 327.4 123.1 314 122.5 293.8 122.8 288.7 123.5 287 124.3 285.9 125.6 285.5 126.9 286.3 130.8 285.8 132.2 282.5 136.1 282 137.4 282.4 138.7 283.4 140.1 287.1 142.2 295.5 144.2 335.8 146.4ZM335.8 145.3 305.6 143.8 293.8 142.7 288.7 141.4 287.1 140.5 285.3 138.7 284.9 137.4 285.7 136.1 288.7 133.8 293.8 131.8 300.2 130.8 298.8 129.5 295.1 128.2 293.9 126.9 295.5 126.5 314 124.2 325.7 125.2 337.5 124.6 342.9 125.6 349.3 127.3 361 125.2 367.7 125.7 373.5 128.2 374.1 129.5 372.3 133.5 373.4 134.8 387.9 138 395.1 141.4 395.7 142.7 394.5 144 391.3 144.9 381.2 145.8ZM302.2 73 310.6 73.6 344.2 72.3 361 73.2 367.7 72.1 377.8 71.6 387.9 68 396.3 67.5 399.7 66.2 403.7 63.7 405.1 62.3 405.4 61 404.8 59.7 403.4 58.4 401.4 57.6 391.3 54.5 382.5 53.1 362.7 50.2 352.6 52 342.5 51.5 330.8 52.6 320.7 52.2 293.8 54.4 288.7 56.4 285.3 58.4 283.8 59.7 283.1 62.3 285 65 293.7 71.6ZM301.2 70.3 293.8 68 288.7 65.2 286.3 62.3 286.8 59.7 288.4 58.4 293.8 56.5 320.7 54.4 352.6 54.5 362.7 52.8 379.5 55.2 389.6 56.6 396.5 58.4 398.5 59.7 399.4 61 399.5 62.3 398.2 63.7 396.3 64.4 386.2 65.7 376.1 68.8 367.7 69.2 359.3 70.8 344.2 69.3 310.6 71.5 305.6 71.2Z" fill="#f1949c" stroke="#f1949c" stroke-width="0.4" fill-rule="evenodd"/>
<path d="M287.1 274.4 291.1 274.4 292.5 271.8 295.5 270.8 305.6 269.4 327.4 269.6 339.2 268.5 364.4 268.2 376.7 269.1 382 270.4 383.5 273.1 383.3 274.4 392.9 274.4 393 271.6 392.5 270.4 389.8 269.1 377.8 267.7 362.7 266.6 352.6 267.2 339.2 266.9 327.4 268.1 315.6 267.7 302.2 268.1 288.7 271 287.1 272.3 286.5 274.4ZM293.8 211.3 305.6 212 315.6 211.7 334.1 209.6 349.3 209.9 362.7 209 372.8 207.7 382.9 204.6 388.3 202 389.6 200.6 386.2 198 385.5 194.1 384.6 192.7 381.6 191.4 372.8 190.6 350.9 191.6 339.2 191.4 322.4 192.2 312.3 193.5 305.6 193.6 293.8 195.6 290 198 289.2 199.3 288.5 203.3 286.3 207.2 288.7 209.6ZM294 208.5 291.9 207.2 292 205.9 295.5 204.1 298.6 203.3 303.9 198.3 305.6 197.5 312.3 198 322.4 195.1 332.4 195 340.8 194.1 345.2 195.4 347.6 198.4 349.2 199.3 350.9 199.4 354.3 198.1 356.6 195.4 359.3 194.3 369.4 193.9 373 194.1 374.9 195.4 376.8 198 382.5 200.6 381.6 202 372.8 205.4 345.9 207.4 334.1 207.4 315.6 209.6 305.6 209.8ZM335.8 145.3 381.2 145.8 391.3 144.9 394.5 144 395.7 142.7 395.1 141.4 387.9 138 373.4 134.8 372.3 133.5 374.1 129.5 373.5 128.2 367.7 125.7 361 125.2 349.3 127.3 342.5 125.5 337.5 124.6 325.7 125.2 314 124.2 295.5 126.5 293.9 126.9 295.1 128.2 298.8 129.5 300.2 130.8 293.8 131.8 288.7 133.8 285.7 136.1 284.9 137.4 285.3 138.7 287.1 140.5 288.7 141.4 293.8 142.7 305.6 143.8ZM331.5 144 305.6 142.7 293.8 141.5 288.7 139.4 287.9 137.4 288.7 136.6 293.8 135 314 133.9 325.7 134.5 335.8 134.2 344.2 135.3 364.4 136.5 386.2 140.5 389.3 141.4 389.5 142.7 386.6 144 377.8 144.7 354.3 144.7ZM302.2 70.4 310.6 71.5 344.2 69.3 359.3 70.8 367.7 69.2 376.1 68.8 386.2 65.7 396.3 64.4 398.2 63.7 399.5 62.3 399.4 61 398.5 59.7 396.5 58.4 389.6 56.6 377.8 55 362.7 52.8 352.6 54.5 320.7 54.4 293.8 56.5 288.7 58.2 286.8 59.7 286.3 62.3 287.1 63.7 288.7 65.2 293.8 68ZM304.3 67.6 293.8 65.6 290.5 63.7 289.3 62.3 289.3 61 290 59.7 292.5 58.4 295.5 57.7 322.4 56.2 352.6 56.3 362.7 55.2 376.1 56.5 386.9 58.4 390 59.7 391 61 390 62.3 376.1 66.3 361 67.3 342.5 66.6 324 67.7Z" fill="#f07a83" stroke="#f07a83" stroke-width="0.4" fill-rule="evenodd"/>
<path d="M292.1 274.4 297.4 274.4 297.9 273.1 299.5 271.8 305.6 270.8 317.3 270.7 327.4 272.4 334.1 270.4 337.5 270.1 352.6 270.4 361 269.6 369.1 270.4 372.8 273 372.8 274.4 383.3 274.4 383.5 273.1 382 270.4 376.7 269.1 362.7 268.1 352.6 268.7 339.2 268.5 327.4 269.6 303.9 269.5 297.1 270.4 292.5 271.8 291.1 274.4ZM295.5 208.9 305.6 209.8 315.6 209.6 334.1 207.4 345.9 207.4 372.8 205.4 381.6 202 382.5 200.6 376.8 198 374.9 195.4 373 194.1 367.7 194 359.3 194.3 356.6 195.4 354.3 198.1 350.9 199.4 349.2 199.3 347.6 198.4 345.2 195.4 340.8 194.1 332.4 195 322.4 195.1 312.3 198 305.6 197.5 303.9 198.3 298.6 203.3 295.5 204.1 292 205.9 291.9 207.2ZM303 205.9 305.6 204.6 319 203 330.8 203.4 331.6 204.6 317.3 207 305.6 206.8ZM335.1 203.3 342.5 202.6 348.4 203.3 342.5 204.3ZM355.9 203.3 356.3 202 361 201.2 372.8 200.8 373.9 202 369.4 203.1 361 203.6ZM332.4 144.1 354.3 144.7 377.8 144.7 386.6 144 389.5 142.7 389.3 141.4 386.2 140.5 364.4 136.5 342.5 135.1 335.8 134.2 327.4 134.5 312.3 134 293.8 135 288.7 136.6 287.9 137.4 288.7 139.4 293.8 141.5 305.6 142.7ZM329 142.7 305.6 141.5 295.5 140.2 292.9 138.7 292.7 137.4 295.5 136.8 312.3 136.4 335.8 136.9 342.5 137.5 361 138.7 370.6 140.1 378.1 141.4 376.1 142.7 354.3 143.7ZM305.6 67.8 325.7 67.6 342.5 66.6 361 67.3 376.1 66.3 390 62.3 391 61 390 59.7 386.9 58.4 374.5 56.3 362.7 55.2 352.6 56.3 322.4 56.2 295.5 57.7 292.5 58.4 290 59.7 289.3 61 289.3 62.3 290.5 63.7 295.5 66.1ZM300.3 65 295 63.7 293.2 62.3 293.2 61 294.4 59.7 302.2 58.4 322.4 57.5 350.9 57.9 362.7 56.9 376.1 58.1 381.1 59.7 381.9 61 381.4 62.3 377.8 64 372.8 64.9 361 65.4 342.5 64.8 324 65.7 305.6 65.6Z" fill="#f0646e" stroke="#f0646e" stroke-width="0.4" fill-rule="evenodd"/>
<path d="M298.8 274.4 372.8 274.4 372.8 273 369.4 270.7 362.7 269.6 352.6 270.4 339.2 270 334.1 270.4 327.4 272.4 317.3 270.7 305.6 270.8 299.5 271.8 297.9 273.1 297.4 274.4ZM303.9 206.3 305.6 206.8 319 206.8 331.6 204.6 330.3 203.3 317.3 203.2 305.6 204.6 303 205.9ZM335.8 203.4 342.5 204.3 347.6 203.2 342.5 202.6ZM356 203.3 361 203.6 371.1 202.8 373.9 202 372.8 200.8 371.9 200.6 361 201.2 356.3 202ZM329.1 142.7 354.3 143.7 376.1 142.7 378.1 141.4 366.1 139.4 341.3 137.4 312.3 136.4 295.5 136.8 292.7 137.4 292.9 138.7 295.5 140.2 305.6 141.5ZM333.7 141.4 328.7 140.1 332.3 138.7 349.3 139.9 352.9 140.1 353.6 141.4 345.9 140.9ZM312.6 138.7 320.8 138.7 317.3 139.3ZM300.5 65 305.6 65.6 324 65.7 342.5 64.8 361 65.4 374.5 64.7 379 63.7 381.4 62.3 381.9 61 381.1 59.7 379.5 59 374.5 57.8 362.7 56.9 350.9 57.9 322.4 57.5 302.2 58.4 294.4 59.7 293.2 61 293.2 62.3 295 63.7ZM319.4 63.7 305.6 63.5 302.2 62.6 301.4 62.3 301.9 61 305.6 59.8 324 59.1 347.6 60.6 354.3 59.7 362.7 58.6 371.4 59.7 374.4 61 373.6 62.3 372.8 62.5 361 63.4 344.2 62.4 327.4 63.8Z" fill="#f04e58" stroke="#f04e58" stroke-width="0.4" fill-rule="evenodd"/>
<path d="M334.1 141.4 345.9 140.9 353.6 141.4 352.9 140.1 347.6 139.9 332.3 138.7 328.7 140.1ZM314 139 317.3 139.3 320.7 138.7ZM320.7 63.7 327.4 63.8 342.5 62.4 350.9 62.5 361 63.4 372.8 62.5 373.6 62.3 374.4 61 371.4 59.7 362.7 58.6 354.2 59.7 347.6 60.6 324 59.1 305.6 59.8 301.9 61 301.4 62.3 303.9 63 305.6 63.5Z" fill="#f33238" stroke="#f33238" stroke-width="0.4" fill-rule="evenodd"/>
</g>
<path d="M260.73 12.3V274.4M294.35 12.3V274.4M327.96 12.3V274.4M361.58 12.3V274.4M395.19 12.3V274.4M231.6 247.97H406.4M231.6 221.54H406.4M231.6 195.11H406.4M231.6 168.68H406.4M231.6 142.25H406.4M231.6 115.82H406.4M231.6 89.39H406.4M231.6 62.96H406.4M231.6 36.53H406.4" stroke="#9a9a9a" stroke-width="0.6" stroke-dasharray="3 3.9" fill="none"/>
<path d="M260.73 274.4v3M260.73 12.3v-3M294.35 274.4v3M294.35 12.3v-3M327.96 274.4v3M327.96 12.3v-3M361.58 274.4v3M361.58 12.3v-3M395.19 274.4v3M395.19 12.3v-3M231.6 274.4h-3M406.4 274.4h3M231.6 247.97h-3M406.4 247.97h3M231.6 221.54h-3M406.4 221.54h3M231.6 195.11h-3M406.4 195.11h3M231.6 168.68h-3M406.4 168.68h3M231.6 142.25h-3M406.4 142.25h3M231.6 115.82h-3M406.4 115.82h3M231.6 89.39h-3M406.4 89.39h3M231.6 62.96h-3M406.4 62.96h3M231.6 36.53h-3M406.4 36.53h3" stroke="#000" stroke-width="1" fill="none"/>
<rect x="231.6" y="12.3" width="174.79999999999998" height="262.09999999999997" stroke="#000" stroke-width="1.1" fill="none"/>
<text x="260.73" y="291" font-family="Liberation Sans, sans-serif" font-size="10" text-anchor="middle" fill="#262626">150°E</text>
<text x="294.35" y="291" font-family="Liberation Sans, sans-serif" font-size="10" text-anchor="middle" fill="#262626">180°</text>
<text x="327.96" y="291" font-family="Liberation Sans, sans-serif" font-size="10" text-anchor="middle" fill="#262626">150°W</text>
<text x="361.58" y="291" font-family="Liberation Sans, sans-serif" font-size="10" text-anchor="middle" fill="#262626">120°W</text>
<text x="395.19" y="291" font-family="Liberation Sans, sans-serif" font-size="10" text-anchor="middle" fill="#262626">90°W</text>
<text x="319" y="9.3" font-family="Liberation Sans, sans-serif" font-size="11.3" text-anchor="middle" fill="#262626">(b) ICM-P2</text>
<clipPath id="cp2"><rect x="431.2" y="12.3" width="175.00000000000006" height="262.09999999999997"/></clipPath>
<g clip-path="url(#cp2)">
<rect x="431.2" y="12.3" width="175.00000000000006" height="262.09999999999997" fill="#fff"/>
<path d="M569.2 44.3 570.2 43.9 569.2 43.9 568.6 43.9Z" fill="#807efb" stroke="#807efb" stroke-width="0.4" fill-rule="evenodd"/>
<path d="M501.9 274.4 506.9 274.2 503.6 273.7ZM542.3 274.4 549.5 274.4 547.6 273.1 545.6 272.6 543.9 273 541.5 274.4ZM569.2 274.4 578.3 274.4 577.6 274 574.2 273.1ZM515.3 206.1 520.4 206.6 523.7 206.4 530.5 204.6 530.7 203.3 524.3 200.6 524.5 199.3 532.4 195.4 533.8 194.1 532.9 192.7 527.1 191.2 520.4 191.5 508.6 193.5 500.4 194.1 504.2 195.4 508.6 195.8 517.5 199.3 517.9 200.6 511.7 203.3 511 204.6ZM565.8 204.6 569.2 205.2 573.3 204.6 574.5 203.3 572.5 202.2 567 202 564.4 203.3ZM503.6 129.6 525.4 129.1 542.3 126.9 555.7 127.8 567.5 126.4 577.6 126.4 584 125.6 586.6 124.3 586 122.9 582.6 121.1 579.3 120.6 569.2 121 564 120.3 563.3 119 563.6 116.3 562.4 114.4 561.8 113.7 557.4 112.4 550.7 111 547.3 111.3 540.6 113.1 533.8 113.5 515.3 112.4 510.3 113 504.8 115 500.7 121.6 490.1 122.5 483.9 124.3 481.7 125.6 481.7 126.9 485.6 128.2ZM537.3 121.6 532.9 120.3 533.8 119.5 540.6 116.7 543.9 116.9 547.2 119 548.1 120.3 546.6 121.6 542.3 122.6ZM493.5 52.1 505.2 52 518.7 50.1 528.8 49.9 538.9 51.1 555.7 49.7 567.5 50.2 581 49.2 584.3 48 586 46.8 587.3 45.2 587.6 43.9 584.3 41.5 579.2 40 574.4 34.7 570.9 33.4 567.5 33.2 555.9 34.7 558.8 40 555.7 40.6 545.6 41.6 528.8 42 508.6 41.7 501.9 42.7 491.8 43 477.8 45.2 474.8 46.5 475.8 47.9ZM506.9 38.7 510.3 38.4 513.1 36 508.6 34.6 504.6 34.7 502.5 36 505.2 38.2Z" fill="#9998fc" stroke="#9998fc" stroke-width="0.4" fill-rule="evenodd"/>
<path d="M475 274.4 501.5 274.4 505.2 273.7 507.3 274.4 541.5 274.4 543.9 273 545.6 272.6 547.3 272.9 549.5 274.4 569 274.4 574.2 273.1 578.3 274.4 594.3 274.4 591.1 270.7 586 268.5 579.3 263.3 574.2 261.8 549 262.1 538.9 263.2 530.5 260.9 527.1 260.7 512 263.4 498.5 262.3 485.9 263.9 482.5 265.2 481.2 266.5 480 269.3 474.4 274.4ZM431.6 241.5 435.1 234.9 440.3 227 442.5 221.7 443.4 217.8 443.3 213.8 440.2 212.5 436.2 212.2 431.2 213.2 431.2 241.8ZM491.8 209.9 510.3 209.5 523.7 210.4 529.1 209.9 537.2 207.6 540.6 207.2 550.7 208.4 559.1 208.1 569.2 210.3 575.9 209.6 592.7 204.6 594.9 203.3 595.2 202 594.4 201.3 591.1 199.9 587.8 199.3 585.6 198 596.1 194.9 598.7 192.7 599.1 191.4 598.6 190.1 596.1 187.9 594.4 187.2 584.3 189.2 577.6 189.3 562.4 187.2 552.4 187.5 543.9 186.1 535.5 186.5 527.1 185.9 512 187.5 500.2 187.3 483.4 189.3 477.7 191.4 473.2 194.1 472.4 195.4 472.7 196.7 476 200.6 475.7 202 471.6 204.6 471.3 205.9 473.3 207.3ZM514.5 205.9 511 204.6 511.7 203.3 517.9 200.6 517.5 199.3 508.6 195.8 504.2 195.4 500.4 194.1 508.6 193.5 520.8 191.4 527.1 191.2 532.9 192.7 533.8 194.1 532.4 195.4 524.5 199.3 524.3 200.6 530.7 203.3 530.5 204.6 526.9 205.9 522.1 206.6ZM565.7 204.6 564.4 203.3 567.5 201.9 571.8 202 574.2 203.1 573.3 204.6 570.9 205.2ZM431.6 162.4 432.6 158.5 432.3 157.2 431.2 155.9 431.2 163.3ZM444.7 152 448 151.6 449.7 150.1 451.3 146.6 451.5 142.7 449.7 139.2 448 138.6 446.3 139 444.7 140.1 443.8 141.4 443 145.3 443.7 150.6ZM488.4 132.5 495.1 133.2 506.9 133.2 517 132.4 525.4 132.8 542.3 130.8 554 131.4 567.5 129.9 577.6 130.2 594.4 127.7 598.9 125.6 600.4 124.3 600.3 122.9 597.3 119 597.6 113.7 597.5 112.4 596.6 111.1 592.9 108.4 587.7 106.7 582.6 106.3 577.6 107.2 570.9 107.9 547.3 106.2 530.5 107.7 513.7 107.6 501.9 108.8 491.8 108.2 482.3 109.8 476.6 112.3 472.9 115 472.1 116.3 470.1 122.9 466.3 126.9 467.1 128.2 471.6 130ZM502.5 129.5 491.8 129 485.6 128.2 481.7 126.9 481.7 125.6 483.9 124.3 490.1 122.5 500.7 121.6 504.8 115 510.3 113 515.3 112.4 533.8 113.5 540.6 113.1 547.3 111.3 550.7 111 561.8 113.7 563.1 115 563.6 116.3 563.3 119 564 120.3 569.2 121 579.3 120.6 582.6 121.1 586 122.9 586.6 124.3 584 125.6 577.6 126.4 567.5 126.4 555.7 127.8 542.3 126.9 525.4 129.1 517 129 506.9 129.9ZM538.9 122 543.9 122.5 546.6 121.6 548.1 120.3 545.6 117.7 542.3 116.5 538.9 117.3 532.9 120.3ZM488.4 55.8 500.2 56.4 518.7 54.1 528.8 54.1 540.6 54.9 564.1 54.4 584.3 52.9 594.4 48.1 602.8 46.1 604.4 45.2 605.4 43.9 604.2 42.6 596.1 41.7 592.7 40.3 592.2 38.6 594 33.4 591.1 31.9 584.3 30.6 554 30.1 535.5 32.3 525.4 31.3 505.2 30.3 495.5 32.1 485 32.2 471.6 34.2 468.5 36 468.6 42.6 465.5 46.5 466 49.2 468.2 51.1 471.6 52.8ZM492 51.8 475.8 47.9 474.8 46.5 477.8 45.2 491.8 43 501.9 42.7 508.6 41.7 528.8 42 545.6 41.6 555.7 40.6 558.8 40 555.9 34.7 569.2 33.2 574.4 34.7 579.2 40 584.3 41.5 587.6 43.9 587.3 45.2 586 46.8 584.3 48 581 49.2 567.5 50.2 555.7 49.7 538.9 51.1 528.8 49.9 518.7 50.1 505.2 52 496.8 52.4ZM506.8 38.6 505.2 38.2 502.5 36 505.2 34.6 509.6 34.7 513.1 36 510.3 38.4Z" fill="#b2b2fd" stroke="#b2b2fd" stroke-width="0.4" fill-rule="evenodd"/>
<path d="M458.1 274.4 474.4 274.4 479 270.4 482.5 265.2 485.9 263.9 498.5 262.3 512 263.4 527.1 260.7 530.5 260.9 538.9 263.2 552.4 262 564.1 262.2 572.5 261.7 575.9 262.1 579.3 263.3 585 267.8 591.1 270.7 594.3 274.4 606.2 274.4 606.2 269.1 606.2 259.7 570.9 257.7 555.7 257.8 538.9 259.2 527.1 257.1 510.3 259.3 498.5 258.4 486.7 259.5 475 259.5 469.9 260 460.4 262.5 458 263.9 457.7 265.2 458.5 269.1 457.8 274.4ZM432.9 246.9 443 245.1 448.9 242.8 445.3 234.9 445.4 232.3 446.3 229.6 449.7 226.1 452.1 221.7 454.1 219.1 464.9 212.6 466.5 212.4 471.6 213.6 480 213.3 491.8 213.9 512 213.2 523.7 213.8 530.5 213.5 538.9 211.6 542.3 211.4 559.1 212.3 570.9 214 577.6 213.3 599.5 209.2 606.2 208.8 606.2 184.8 596.6 178.3 594.4 177.9 591.1 178.4 582.8 180.9 574.2 182.5 569.2 181.8 560.8 179.8 554 179.7 545.6 178.8 535.5 180.4 518.7 180.7 498.5 182.7 483.4 181.9 480 182.5 475 184.6 469.9 187.4 464 192.7 462.7 195.4 464.3 200.6 464.1 202 459.8 206.6 454.8 209.8 451.4 210.8 448 210.6 437.9 208.4 431.2 210.2 431.2 213.2 436.2 212.2 439.6 212.3 443.3 213.8 443.4 215.1 442.9 220.4 441.3 225.1 431.2 241.8 431.2 247.1ZM490.7 209.9 473.3 207.3 471.3 205.9 471.6 204.6 475.7 202 476 200.6 472.7 196.7 472.4 195.4 473.2 194.1 477.7 191.4 483.4 189.3 500.2 187.3 512 187.5 527.1 185.9 535.5 186.5 543.9 186.1 552.4 187.5 562.4 187.2 579.3 189.4 586 189.1 594.4 187.2 596.1 187.9 598.6 190.1 599.1 191.4 598.7 192.7 596.1 194.9 585.6 198 587.8 199.3 591.1 199.9 594.4 201.3 595.2 202 594.9 203.3 592.7 204.6 575.9 209.6 569.2 210.3 559.1 208.1 550.7 208.4 540.6 207.2 537.2 207.6 529.1 209.9 523.7 210.4 510.3 209.5ZM432.9 173.8 437.9 172 444.7 172.5 448 170.7 449.7 169 451.7 155.9 456.8 145.3 458.5 140.1 461 137.4 466.5 134.5 478.3 135 493.5 137.4 515.3 135.9 527.1 136.9 540.6 135.6 554 135.4 565.8 133.9 577.6 134.4 594.4 132.2 606.2 128 606.2 103.2 602.8 103.5 596.1 103.8 584.3 102.4 570.9 104 547.3 103.1 528.8 104.3 517 104 503.6 104.7 491.8 104.3 483.4 105.6 465.9 109.8 463.2 111.2 459.8 114.7 459.2 116.3 458.8 122.9 452.9 130.8 451.4 131.6 446.3 132.4 437.9 132.1 431.2 134.3 431.2 155.6 432.6 158.5 431.2 163.3 431.2 174.3ZM444.5 151.9 443.7 150.6 443 145.3 443.8 141.4 444.7 140.1 448 138.6 449.7 139.2 450.3 140.1 451.7 144 451.3 146.6 450.1 149.3 448 151.6ZM486.9 132.2 471.6 130 467.1 128.2 466.3 126.9 470.1 122.9 472.1 116.3 472.9 115 476.6 112.3 482.3 109.8 491.8 108.2 501.9 108.8 513.7 107.6 530.5 107.7 547.3 106.2 570.9 107.9 577.9 107.1 582.6 106.3 587.7 106.7 592.9 108.4 596.6 111.1 597.5 112.4 597.6 113.7 597.3 119 600.3 122.9 600.4 124.3 598.9 125.6 594.4 127.7 577.6 130.2 567.5 129.9 554 131.4 542.3 130.8 525.4 132.8 517 132.4 506.9 133.2 495.1 133.2ZM437.9 92.8 443 92.3 447.2 90 448.5 88.7 451.6 82.1 454.2 65 455.4 62.3 466.5 58.1 476.6 57.9 486.7 59.4 501.9 59.6 515.3 57.7 525.4 57.3 538.9 57.9 562.4 57.9 574.2 56.7 584.3 56.7 592.7 55.1 601.2 55.1 606.2 54.2 606.2 27.3 594.4 27.3 584.3 26.3 552.4 25.5 547.3 26.1 538.9 28.3 535.5 28.4 525.4 26.3 503.6 25.9 493.5 27.4 483.4 27.1 476.6 28 468.2 28.4 464.9 30.6 461.5 34.7 460.6 37.3 460.7 42.6 459.8 43.7 451.4 50 446.3 52.2 443 53.1 439.6 52.5 434.6 50.4 431.2 50 431.2 64.9 437.9 64.9 438.1 66.3 434.3 67.6 431.2 67.8 431.2 90.9ZM487.9 55.8 471.6 52.8 468.2 51.1 466 49.2 465.5 46.5 468.6 42.6 468.5 36 471.6 34.2 485 32.2 495.5 32.1 505.2 30.3 525.4 31.3 535.5 32.3 554 30.1 567.5 30 585.8 30.7 591.7 32.1 594 33.4 592.2 38.6 592.7 40.3 596.1 41.7 604.2 42.6 605.4 43.9 604.4 45.2 602.8 46.1 594.4 48.1 584.3 52.9 564.1 54.4 540.6 54.9 528.8 54.1 518.7 54.1 500.2 56.4Z" fill="#ccccff" stroke="#ccccff" stroke-width="0.4" fill-rule="evenodd"/>
<path d="M449.7 274.4 457.8 274.4 458.5 270.4 457.7 265.2 458.1 263.8 460.4 262.5 471.6 259.7 485 259.6 498.5 258.4 510.3 259.3 527.1 257.1 538.9 259.2 555.7 257.8 570.9 257.7 606.2 259.7 606.2 253.8 597.8 254.4 586 254.9 570.9 254.1 555.7 254.3 538.9 255.8 527.1 253.9 508.6 255.5 498.5 254.7 486.7 255.8 468.2 254.2 449.7 255.2 446.3 254.3 443 252.1 441.3 252 440.7 253.3 440.8 254.6 442.6 261.2 444.2 265.2 448.8 271.8 448.8 274.4ZM432.9 252.1 436.4 250.7 444.7 250 449.7 247.8 455 244.1 456.3 242.8 454.9 233.6 455.6 229.6 461.5 222.2 464.9 219.7 466.5 219 473.3 219.8 486.7 218 505.2 217.6 513.7 216.9 530.5 217.9 543.9 215.5 557.4 216.4 569.2 218.5 587.7 216.1 599.5 216.4 606.2 218.1 606.2 208.8 602.8 209 599.5 209.2 577.6 213.3 570.9 214 559.1 212.3 542.3 211.4 538.9 211.6 530.5 213.5 523.7 213.8 512 213.2 491.8 213.9 480 213.3 471.6 213.6 466.5 212.4 464.9 212.6 454.1 219.1 452.1 221.7 449.7 226.1 446.3 229.6 445.4 232.3 445.3 234.9 448.9 242.8 443 245.1 431.2 247.1 431.2 252.5ZM432.5 209.9 437.9 208.4 448 210.6 451.4 210.8 454.8 209.8 459.8 206.6 464.1 202 464.3 200.6 462.7 195.4 465.2 191.4 471.6 186.2 481.7 182.1 498.5 182.7 518.7 180.7 535.5 180.4 545.6 178.8 554 179.7 560.8 179.8 569.2 181.8 574.2 182.5 579.3 181.7 591.6 178.3 594.4 177.9 597.8 178.8 606.2 184.8 606.2 175.8 594.4 174.8 574.2 176.8 545.6 176.3 498.5 178.6 481.7 177.8 469.8 178.3 464.2 179.6 461.5 184.6 458.6 187.5 456.4 188 454.8 187.6 449.4 183.5 447.8 179.6 447.8 178.3 454.7 169 456 162.4 455.7 157.2 456.3 154.5 459.8 148.5 463.1 145.3 466.5 142.6 473.3 140.8 476.6 141.2 483.4 143 490.1 143.4 512 140.8 517 141 527.1 142.7 537.2 142.1 547.3 142.3 556 141.4 565.8 139.4 574.2 140.7 577.6 140.6 589.4 137.6 599.5 136.7 606.2 134.4 606.2 128 594.4 132.2 575.9 134.5 565.8 133.9 554 135.4 540.6 135.6 527.1 136.9 515.3 135.9 495.1 137.5 476.6 134.9 466.5 134.5 464.9 135.1 461 137.4 458.5 140.1 456.8 145.3 451.7 155.9 449.7 169 448 170.7 444.7 172.5 437.9 172 431.2 174.3 431.2 179.7 440.1 179.6 440.6 180.9 443.2 183.5 444.2 187.5 443 195.4 442.1 196.7 437.9 196.8 436.2 197.5 434.5 199.3 433.8 204.6 433.2 205.9 431.2 206.6 431.2 210.2ZM443.5 204.6 442.6 202 442.7 199.3 443 198.4 443.4 199.3 444.7 200 446.7 202 448 204.6 446.3 205.7 444.7 205.5ZM432.9 133.7 437.9 132.1 446.3 132.4 451.4 131.6 452.9 130.8 458.8 122.9 459.2 116.3 459.8 114.7 461.7 112.4 466.5 109.5 483.4 105.6 491.8 104.3 503.6 104.7 517 104 528.8 104.3 547.3 103.1 570.9 104 584.3 102.4 599.5 103.9 606.2 103.2 606.2 97.8 602.8 98.5 596.1 99.6 582.6 99.1 570.9 100.9 547.3 100.3 528.8 101.3 517 100.8 506.9 101.5 493.5 100.9 475 104.1 464.9 104 461.5 104.9 453.1 108.4 450.2 111.1 449.9 113.7 453 120.3 453.5 122.9 453.1 124.3 451.4 126.1 449.7 127.3 446.3 128.3 443 128 437.9 126.6 431.2 128.1 431.2 134.3ZM432.9 95.5 437.9 96.3 443 95.9 446.3 94.4 452.8 90 459.9 83.4 459.5 75.5 460.5 71.6 461.8 68.9 464.9 65.2 466.5 64 471.6 62.6 478.3 62 488.4 63.5 503.6 63 515.3 61 527.1 60.1 537.2 60.8 550.7 60.6 562.4 61.3 575.9 59.7 584.3 60.3 592.7 60.1 606.2 61.6 606.2 54.2 601.2 55.1 592.7 55.1 584.3 56.7 574.2 56.7 562.4 57.9 538.9 57.9 525.4 57.3 515.3 57.7 501.9 59.6 486.7 59.4 476.6 57.9 466.5 58.1 456.4 61.8 454.8 63.3 451.6 82.1 448.5 88.7 444.7 91.5 441.3 92.8 437.9 92.8 431.2 90.9 431.2 95.3ZM432.9 67.9 438.1 66.3 438 65 436.2 64.8 431.2 64.9 431.2 67.8ZM439.6 52.5 443 53.1 447.4 51.8 451.4 50 459.6 43.9 460.7 42.6 460.6 37.3 461.5 34.7 466.2 29.4 469.5 28.1 476.6 28 485 27 493.5 27.4 503.6 25.9 525.4 26.3 533.8 28.2 537.2 28.5 549 25.8 555.7 25.4 570.9 26.3 581 25.9 594.4 27.3 606.2 27.3 606.2 21.6 589.4 22.6 577.6 21.4 570.9 21.9 559.1 21.1 535.5 23.6 523.7 22 510.3 22.6 500.2 22.2 491.8 23.3 476.6 23 466.5 21 463.2 21 459.8 22.7 458.6 24.2 455.8 30.7 450.7 36 447.8 43.9 446.2 46.5 444.7 47.6 441.3 47.9 438.2 46.5 435.6 42.6 433.8 38.6 432.9 34.5 431.2 32.1 431.2 50 434.6 50.4Z" fill="#e5e5ff" stroke="#e5e5ff" stroke-width="0.4" fill-rule="evenodd"/>
<path d="M483.4 251 490.1 251.7 498.5 250.8 506.9 250.8 515.3 249.4 538.9 251.9 554 250.2 587.7 250.4 599.5 248.4 606.2 247.8 606.2 229.8 601.6 227 594.4 224.3 587.7 223.2 581 223.3 567.5 224.3 550.7 222.3 536.6 224.4 530.5 224.8 522.1 224.2 513.7 222.9 503.6 223.4 495.1 223.1 488.4 223.9 475 227.6 466.5 227.6 464.9 228 462.4 229.6 461.5 231 460.9 233.6 462 237.5 466.1 244.1 466.5 244.7 469.9 245.4 474.4 248.1ZM487 240.2 481.7 237.3 479.5 234.9 479.3 233.6 480 232.3 483.4 229.6 490.1 228.1 512 227.5 522.1 228.9 530.5 229.1 540.6 228.5 549 226.9 555.7 226.5 560.8 227 567.5 229 575.9 228.2 586 229.4 589.4 229.7 591 230.9 589.4 232.3 582.6 232.6 575.9 234.3 569.2 234 560.8 237.4 557.4 238.1 552.4 238.2 543.9 236 540.6 235.8 537.2 236.9 532.2 239.6 528.8 240.5 525.4 239.7 518.7 236.6 515.3 236.2 498.5 238 491.8 240.4ZM490.1 177 500.2 177.1 515.3 175.8 537.2 175.7 545.6 174.1 554 174.8 572.5 175 582 174.3 587.5 173 596.1 168.4 597.8 168 603.9 170.4 606.2 170.3 606.2 164.7 602.8 163 597.8 162.3 596.7 161.1 596.7 159.8 601.2 157.8 605.6 154.5 606.2 153.9 606.2 149.9 597.8 145 594.4 144 591.1 143.8 579.3 144.8 565.8 144.5 545.6 146 527.1 146.1 512 145.3 488.4 147.6 471.6 148 466.5 148.8 462.6 151.9 461.5 153.5 460.9 155.9 461.9 158.5 465.9 162.4 467.6 165.1 469.4 170.4 470.6 171.7 473 173ZM494.1 173 491.6 171.7 490.5 170.4 490.3 169 492.3 166.4 503.6 162.8 505.2 162.6 508.5 163.8 510.3 165.2 511.3 167.7 510.8 169 509.1 170.4 505.2 172.2 500.2 173.5ZM528.6 171.7 524 170.4 522.5 169 522.6 167.7 523.8 166.4 530.4 161.1 527.4 159.8 522.1 159.6 510.3 160.7 506 161.1 505.2 162 503.4 161.1 483.4 157.7 479.8 155.9 479.3 154.5 481.1 153.2 483.4 152.6 501.9 149.7 517 148.8 527.1 149.7 542.3 149.7 572.5 148.5 589.4 149.7 592.3 150.6 593.1 151.9 591.4 153.2 584.3 155.9 574.2 157.8 570.9 158 562.4 157.1 559.1 157.6 552.4 160.1 542.3 158.9 537.4 159.8 535.5 161.1 539.4 165.1 540 167.7 539.2 169 537.2 170.5 533.8 171.5ZM568.6 169 567.5 167.7 569.2 166.5 570.9 166.3 572.5 167 573.2 167.7 572.5 169.2 570.9 169.5ZM553.6 167.7 552.3 166.4 552.4 164.3 554 164.1 555.8 165.1 557.2 166.4 557.5 167.7 555.7 168.2ZM451.4 100.7 453.1 101.1 456.4 100.5 463.2 96.8 466.5 97.3 471.6 99.6 475 99.9 495.1 96.9 506.9 97.6 518.7 96.5 537.2 97.5 549 96.6 560.8 97.4 572.5 96.8 587.7 94.5 597.8 94.6 601.2 94.1 606.2 92.7 606.2 69.1 601.2 67.5 577.6 63.7 572.5 63.9 562.4 65.4 549 64 537.2 64.4 528.8 63.6 506.9 67.1 495.1 67.6 486.7 68.8 478.3 68.2 473.3 68.8 466.5 71.6 464.9 75 464.5 76.8 466.3 82.1 466 84.7 461.5 91.8 459.8 92.7 454.8 93.9 449.8 96.6 448.8 97.9 449.7 99.7ZM480.4 92.6 475.4 90 475.7 88.7 482.3 83.4 482.5 82.1 479.1 78.2 478.9 76.8 481.7 75.2 495.1 72.6 512 72.5 525.4 68.1 528.8 67.6 537.2 68.5 543.9 67.7 549 67.8 562.4 70 575.9 68.1 581 68.9 584.6 70.3 591 74.2 590.5 75.5 584.9 79.5 583.9 80.8 584.6 82.1 589 86.1 584.3 89.2 575.9 91.3 559.1 93.4 549 92.5 537.2 93.6 528.8 92.3 515.3 91.6 505.2 93.4 496.8 92.7 486.7 93.7ZM594.9 87.4 593.2 86.1 594 84.7 597.8 82.8 601 83.4 602.5 84.7 602.8 86.1 601.7 87.4 599.5 88.3ZM478.3 18.9 490.1 19.6 498.5 18.4 508.6 19.3 523.7 18.4 535.5 19.8 552.4 18.5 562.4 17 570.9 18.1 579.3 17.8 589.4 19.2 606.2 17.3 606.2 12.3 601.5 12.3 591.9 14.9 586 15 577.6 12.7 570.9 13.1 566.2 12.3 558.2 12.3 550.7 14.6 535.5 15.6 523.7 13.8 510.3 15 498.5 13.2 488.4 14.5 480 13.7 475.2 12.3 465.5 12.3 473.3 17.4ZM431.2 16.3 432.4 12.3 431.2 12.3ZM449.7 14 451.4 14.8 453.1 14.4 456.3 12.3 454.8 12.3 448.6 12.3Z" fill="#fae2e5" stroke="#fae2e5" stroke-width="0.4" fill-rule="evenodd"/>
<path d="M488.4 240.5 491.8 240.4 498.5 238 515.3 236.2 518.7 236.6 525.4 239.7 528.8 240.5 532.2 239.6 537.2 236.9 540.6 235.8 543.9 236 552.4 238.2 557.4 238.1 560.8 237.4 569.2 234 575.9 234.3 582.6 232.6 589.4 232.3 591 230.9 589.4 229.7 584.3 229.3 575.9 228.2 567.5 229 560.8 227 555.7 226.5 549 226.9 540.6 228.5 530.5 229.1 522.1 228.9 510.3 227.5 488.4 228.3 483.4 229.7 480 232.3 479.3 233.6 479.5 234.9 482 237.5 485 239.4ZM495.1 173.3 498.5 173.7 502.9 173 506.6 171.7 510.8 169 511.3 167.7 511.1 166.4 510.2 165.1 506.9 163 505.2 162.6 503.6 162.8 493.5 165.7 491.8 166.8 490.3 169 490.5 170.4 491.8 171.8ZM528.8 171.7 533.8 171.5 537.2 170.5 539.2 169 540 167.7 539.4 165.1 535.5 161.1 537.4 159.8 542.3 158.9 552.4 160.1 559.1 157.6 562.4 157.1 570.9 158 574.2 157.8 584.3 155.9 591.4 153.2 593.1 151.9 592.3 150.6 589.4 149.7 572.5 148.5 540.6 149.6 527.1 149.7 517 148.8 501.9 149.7 483.4 152.6 481.1 153.2 479.3 154.5 479.8 155.9 483.4 157.7 503.4 161.1 505.2 162 506 161.1 510.3 160.7 522.1 159.6 527.4 159.8 530.4 161.1 523.8 166.4 522.6 167.7 522.5 169 524 170.4ZM569.2 169.2 572.7 169 573.2 167.7 571.2 166.4 569.2 166.5 567.5 167.7ZM554 167.9 555.7 168.2 557.5 167.7 557.2 166.4 555.7 165 554 164.1 552.4 164.3 552.3 166.4ZM481.7 93 486.7 93.7 496.8 92.7 505.2 93.4 515.3 91.6 528.8 92.3 537.2 93.6 549 92.5 559.1 93.4 575.9 91.3 584.3 89.2 589 86.1 584.6 82.1 583.9 80.8 584.9 79.5 590.5 75.5 591 74.2 584.3 70.1 581 68.9 575.9 68.1 562.4 70 549 67.8 543.9 67.7 537.2 68.5 528.8 67.6 525.4 68.1 512 72.5 495.1 72.6 481.7 75.2 478.9 76.8 479.1 78.2 482.5 82.1 482.3 83.4 475.7 88.7 475.4 90 477.2 91.3ZM537.5 87.4 538.6 86.1 541.1 86.1 541.8 87.4 538.9 87.8ZM524.2 78.2 522.2 76.8 522.2 75.5 524 74.2 527.1 73 530.5 72.9 535.5 74.2 545.6 73.1 552.4 74.2 554.2 75.5 550.7 76.9 542.3 78 535.5 77.3 527.1 78.7ZM596.1 87.8 599.5 88.3 601.7 87.4 602.8 86.1 602.5 84.7 599.5 82.8 596.1 83.4 594 84.7 593.2 86.1ZM508.6 15 522.1 13.8 525.4 13.9 533.8 15.6 550.7 14.6 558.2 12.3 525.4 12.3 475.2 12.3 478.3 13.4 483.4 14.2 490.1 14.4 498.5 13.2ZM586 15 591.1 15.1 601.5 12.3 582.6 12.3 566.2 12.3 570.9 13.1 579.3 12.9Z" fill="#f5c8cd" stroke="#f5c8cd" stroke-width="0.4" fill-rule="evenodd"/>
<path d="M538.9 87.8 541.8 87.4 540.6 85.9 538.6 86.1 537.5 87.4ZM525.4 78.5 528.8 78.7 535.5 77.3 542.3 78 551.3 76.8 554.2 75.5 552.5 74.2 550.7 73.8 543.9 73.1 535.5 74.2 530.5 72.9 527.1 73 524 74.2 522.2 75.5 522.2 76.8Z" fill="#f2afb6" stroke="#f2afb6" stroke-width="0.4" fill-rule="evenodd"/>
</g>
<path d="M460.37 12.3V274.4M494.02 12.3V274.4M527.67 12.3V274.4M561.33 12.3V274.4M594.98 12.3V274.4M431.2 247.97H606.2M431.2 221.54H606.2M431.2 195.11H606.2M431.2 168.68H606.2M431.2 142.25H606.2M431.2 115.82H606.2M431.2 89.39H606.2M431.2 62.96H606.2M431.2 36.53H606.2" stroke="#9a9a9a" stroke-width="0.6" stroke-dasharray="3 3.9" fill="none"/>
<path d="M460.37 274.4v3M460.37 12.3v-3M494.02 274.4v3M494.02 12.3v-3M527.67 274.4v3M527.67 12.3v-3M561.33 274.4v3M561.33 12.3v-3M594.98 274.4v3M594.98 12.3v-3M431.2 274.4h-3M606.2 274.4h3M431.2 247.97h-3M606.2 247.97h3M431.2 221.54h-3M606.2 221.54h3M431.2 195.11h-3M606.2 195.11h3M431.2 168.68h-3M606.2 168.68h3M431.2 142.25h-3M606.2 142.25h3M431.2 115.82h-3M606.2 115.82h3M431.2 89.39h-3M606.2 89.39h3M431.2 62.96h-3M606.2 62.96h3M431.2 36.53h-3M606.2 36.53h3" stroke="#000" stroke-width="1" fill="none"/>
<rect x="431.2" y="12.3" width="175.00000000000006" height="262.09999999999997" stroke="#000" stroke-width="1.1" fill="none"/>
<text x="460.37" y="291" font-family="Liberation Sans, sans-serif" font-size="10" text-anchor="middle" fill="#262626">150°E</text>
<text x="494.02" y="291" font-family="Liberation Sans, sans-serif" font-size="10" text-anchor="middle" fill="#262626">180°</text>
<text x="527.67" y="291" font-family="Liberation Sans, sans-serif" font-size="10" text-anchor="middle" fill="#262626">150°W</text>
<text x="561.33" y="291" font-family="Liberation Sans, sans-serif" font-size="10" text-anchor="middle" fill="#262626">120°W</text>
<text x="594.98" y="291" font-family="Liberation Sans, sans-serif" font-size="10" text-anchor="middle" fill="#262626">90°W</text>
<text x="518.7" y="9.3" font-family="Liberation Sans, sans-serif" font-size="11.3" text-anchor="middle" fill="#262626">(c) ICM-P3</text>
<text x="19.9" y="279.1" font-family="Liberation Sans, sans-serif" font-size="10" text-anchor="middle" fill="#262626">1</text>
<text x="19.9" y="252.67" font-family="Liberation Sans, sans-serif" font-size="10" text-anchor="middle" fill="#262626">2</text>
<text x="19.9" y="226.24" font-family="Liberation Sans, sans-serif" font-size="10" text-anchor="middle" fill="#262626">3</text>
<text x="19.9" y="199.81" font-family="Liberation Sans, sans-serif" font-size="10" text-anchor="middle" fill="#262626">4</text>
<text x="19.9" y="173.38" font-family="Liberation Sans, sans-serif" font-size="10" text-anchor="middle" fill="#262626">5</text>
<text x="19.9" y="146.95" font-family="Liberation Sans, sans-serif" font-size="10" text-anchor="middle" fill="#262626">6</text>
<text x="19.9" y="120.52" font-family="Liberation Sans, sans-serif" font-size="10" text-anchor="middle" fill="#262626">7</text>
<text x="19.9" y="94.09" font-family="Liberation Sans, sans-serif" font-size="10" text-anchor="middle" fill="#262626">8</text>
<text x="19.9" y="67.66" font-family="Liberation Sans, sans-serif" font-size="10" text-anchor="middle" fill="#262626">9</text>
<text x="19.9" y="41.23" font-family="Liberation Sans, sans-serif" font-size="10" text-anchor="middle" fill="#262626">10</text>
<text transform="translate(8.7 143.4) rotate(-90)" font-family="Liberation Sans, sans-serif" font-size="11.4" text-anchor="middle" fill="#262626">model year</text>
<rect x="614.9" y="261.29" width="6.600000000000023" height="13.41" fill="#1400f8"/>
<rect x="614.9" y="248.19" width="6.600000000000023" height="13.4" fill="#2316fa"/>
<rect x="614.9" y="235.08" width="6.600000000000023" height="13.4" fill="#372dfa"/>
<rect x="614.9" y="221.98" width="6.600000000000023" height="13.4" fill="#504afa"/>
<rect x="614.9" y="208.88" width="6.600000000000023" height="13.4" fill="#6864fa"/>
<rect x="614.9" y="195.77" width="6.600000000000023" height="13.41" fill="#807efb"/>
<rect x="614.9" y="182.66" width="6.600000000000023" height="13.4" fill="#9998fc"/>
<rect x="614.9" y="169.56" width="6.600000000000023" height="13.4" fill="#b2b2fd"/>
<rect x="614.9" y="156.45" width="6.600000000000023" height="13.41" fill="#ccccff"/>
<rect x="614.9" y="143.35" width="6.600000000000023" height="13.4" fill="#e5e5ff"/>
<rect x="614.9" y="130.24" width="6.600000000000023" height="13.41" fill="#ffffff"/>
<rect x="614.9" y="117.14" width="6.600000000000023" height="13.4" fill="#fae2e5"/>
<rect x="614.9" y="104.03" width="6.600000000000023" height="13.41" fill="#f5c8cd"/>
<rect x="614.9" y="90.93" width="6.600000000000023" height="13.4" fill="#f2afb6"/>
<rect x="614.9" y="77.82" width="6.600000000000023" height="13.41" fill="#f1949c"/>
<rect x="614.9" y="64.72" width="6.600000000000023" height="13.4" fill="#f07a83"/>
<rect x="614.9" y="51.62" width="6.600000000000023" height="13.4" fill="#f0646e"/>
<rect x="614.9" y="38.51" width="6.600000000000023" height="13.41" fill="#f04e58"/>
<rect x="614.9" y="25.41" width="6.600000000000023" height="13.4" fill="#f33238"/>
<rect x="614.9" y="12.3" width="6.600000000000023" height="13.41" fill="#f81a1c"/>
<rect x="614.9" y="12.3" width="6.600000000000023" height="262.1" stroke="#8c8c8c" stroke-width="0.8" fill="none"/>
<text x="627.6" y="278.4" font-family="Liberation Sans, sans-serif" font-size="10" fill="#262626">-1.5</text>
<text x="627.6" y="252.19" font-family="Liberation Sans, sans-serif" font-size="10" fill="#262626">-1.2</text>
<text x="627.6" y="225.98" font-family="Liberation Sans, sans-serif" font-size="10" fill="#262626">-0.9</text>
<text x="627.6" y="199.77" font-family="Liberation Sans, sans-serif" font-size="10" fill="#262626">-0.6</text>
<text x="627.6" y="173.56" font-family="Liberation Sans, sans-serif" font-size="10" fill="#262626">-0.3</text>
<text x="627.6" y="147.35" font-family="Liberation Sans, sans-serif" font-size="10" fill="#262626">0</text>
<text x="627.6" y="121.14" font-family="Liberation Sans, sans-serif" font-size="10" fill="#262626">0.3</text>
<text x="627.6" y="94.93" font-family="Liberation Sans, sans-serif" font-size="10" fill="#262626">0.6</text>
<text x="627.6" y="68.72" font-family="Liberation Sans, sans-serif" font-size="10" fill="#262626">0.9</text>
<text x="627.6" y="42.51" font-family="Liberation Sans, sans-serif" font-size="10" fill="#262626">1.2</text>
<text x="627.6" y="16.3" font-family="Liberation Sans, sans-serif" font-size="10" fill="#262626">1.5</text>
<path d="M621.5 274.4h2.5M621.5 248.19h2.5M621.5 221.98h2.5M621.5 195.77h2.5M621.5 169.56h2.5M621.5 143.35h2.5M621.5 117.14h2.5M621.5 90.93h2.5M621.5 64.72h2.5M621.5 38.51h2.5M621.5 12.3h2.5" stroke="#262626" stroke-width="0.9" fill="none"/>
<text transform="translate(655.5 143.3) rotate(-90)" font-family="Liberation Sans, sans-serif" font-size="11" text-anchor="middle" fill="#262626">°C</text>
<clipPath id="cpd"><rect x="31.5" y="313.2" width="574.5" height="111.19999999999999"/></clipPath>
<path d="M127.25 313.2V424.4M223 313.2V424.4M318.75 313.2V424.4M414.5 313.2V424.4M510.25 313.2V424.4M31.5 331.1H606.0M31.5 406.3H606.0" stroke="#9a9a9a" stroke-width="0.6" stroke-dasharray="3 3.9" fill="none"/>
<path d="M31.5 368.7H606.0" stroke="#5a5a5a" stroke-width="1.1" fill="none"/>
<g clip-path="url(#cpd)" fill="none" stroke-width="1.8" stroke-linejoin="round">
<path d="M31.5 382.6L32.3 382.1L33.1 381.7L33.9 381.2L34.7 380.8L35.5 380.5L36.3 380.1L37.1 379.9L37.9 379.6L38.7 379.3L39.5 378.9L40.3 378.1L41.1 376.7L41.9 375.0L42.7 373.5L43.5 371.8L44.3 370.1L45.1 368.4L45.9 366.5L46.7 364.7L47.5 362.9L48.3 361.4L49.1 359.9L49.9 358.4L50.7 357.1L51.4 356.4L52.2 356.3L53.0 356.3L53.8 356.3L54.6 356.3L55.4 356.3L56.2 355.9L57.0 355.2L57.8 354.6L58.6 353.9L59.4 353.1L60.2 352.3L61.0 351.8L61.8 351.4L62.6 351.5L63.4 352.0L64.2 352.7L65.0 353.7L65.8 355.2L66.6 357.0L67.4 358.8L68.2 360.2L69.0 361.3L69.8 362.3L70.6 363.2L71.4 364.1L72.2 365.2L73.0 366.5L73.8 367.9L74.6 369.5L75.4 371.0L76.2 372.5L77.0 374.1L77.8 375.6L78.6 377.0L79.4 378.3L80.2 379.6L81.0 380.9L81.8 381.8L82.6 382.2L83.4 381.9L84.2 381.2L85.0 380.5L85.8 380.4L86.6 380.7L87.4 381.2L88.2 381.8L89.0 382.3L89.7 382.6L90.5 382.5L91.3 381.9L92.1 381.1L92.9 380.2L93.7 379.3L94.5 378.4L95.3 377.6L96.1 376.8L96.9 375.9L97.7 375.0L98.5 374.0L99.3 373.0L100.1 372.2L100.9 371.1L101.7 369.4L102.5 364.4L103.3 360.8L104.1 359.3L104.9 358.1L105.7 357.1L106.5 356.4L107.3 355.9L108.1 355.6L108.9 355.5L109.7 355.6L110.5 355.7L111.3 355.8L112.1 355.8L112.9 355.9L113.7 355.8L114.5 355.2L115.3 354.2L116.1 353.0L116.9 351.8L117.7 350.7L118.5 350.1L119.3 349.9L120.1 350.6L120.9 351.9L121.7 353.5L122.5 355.3L123.3 357.1L124.1 358.8L124.9 360.8L125.7 362.9L126.5 364.9L127.3 366.4L128.0 367.6L128.8 368.5L129.6 369.4L130.4 370.3L131.2 371.5L132.0 372.8L132.8 374.3L133.6 375.8L134.4 377.3L135.2 378.7L136.0 380.3L136.8 382.1L137.6 383.8L138.4 385.2L139.2 385.9L140.0 385.9L140.8 385.3L141.6 384.6L142.4 384.0L143.2 383.7L144.0 383.7L144.8 383.7L145.6 383.7L146.4 383.7L147.2 383.7L148.0 383.5L148.8 382.9L149.6 382.3L150.4 381.5L151.2 380.6L152.0 379.5L152.8 378.1L153.6 376.5L154.4 374.9L155.2 373.2L156.0 371.2L156.8 369.1L157.6 367.2L158.4 365.2L159.2 363.4L160.0 361.6L160.8 359.9L161.6 358.1L162.4 356.5L163.2 354.9L164.0 353.6L164.8 352.4L165.6 351.3L166.3 350.4L167.1 349.9L167.9 350.1L168.7 350.6L169.5 351.2L170.3 351.7L171.1 351.8L171.9 351.4L172.7 350.7L173.5 349.9L174.3 349.2L175.1 348.8L175.9 349.0L176.7 349.7L177.5 350.7L178.3 352.0L179.1 353.1L179.9 354.4L180.7 355.8L181.5 357.4L182.3 359.0L183.1 360.6L183.9 362.3L184.7 364.1L185.5 366.0L186.3 367.9L187.1 370.0L187.9 372.0L188.7 373.9L189.5 375.8L190.3 377.6L191.1 379.3L191.9 380.9L192.7 382.2L193.5 383.4L194.3 384.6L195.1 385.8L195.9 386.7L196.7 387.3L197.5 387.5L198.3 386.8L199.1 385.6L199.9 384.3L200.7 383.5L201.5 383.4L202.3 383.4L203.1 383.4L203.9 383.4L204.6 383.4L205.4 382.9L206.2 381.7L207.0 380.2L207.8 378.5L208.6 376.9L209.4 375.6L210.2 374.4L211.0 373.2L211.8 371.9L212.6 370.6L213.4 369.1L214.2 367.3L215.0 365.3L215.8 363.3L216.6 361.4L217.4 359.7L218.2 358.3L219.0 356.9L219.8 355.6L220.6 354.3L221.4 352.9L222.2 351.5L223.0 349.5L223.8 347.7L224.6 347.3L225.4 347.8L226.2 348.6L227.0 349.4L227.8 349.9L228.6 349.8L229.4 349.5L230.2 349.0L231.0 348.5L231.8 348.0L232.6 347.7L233.4 347.7L234.2 348.7L235.0 350.4L235.8 352.4L236.6 354.1L237.4 355.9L238.2 357.8L239.0 359.7L239.8 361.8L240.6 363.9L241.4 366.0L242.2 367.9L242.9 369.6L243.7 371.2L244.5 372.4L245.3 373.5L246.1 374.5L246.9 375.5L247.7 376.6L248.5 378.1L249.3 379.6L250.1 381.3L250.9 382.9L251.7 384.5L252.5 386.5L253.3 388.2L254.1 389.0L254.9 388.5L255.7 387.2L256.5 385.5L257.3 384.1L258.1 383.3L258.9 383.1L259.7 383.0L260.5 382.9L261.3 382.7L262.1 382.4L262.9 381.7L263.7 380.6L264.5 379.4L265.3 378.1L266.1 376.8L266.9 375.3L267.7 373.7L268.5 371.9L269.3 370.1L270.1 368.3L270.9 366.4L271.7 364.3L272.5 362.3L273.3 360.3L274.1 358.7L274.9 357.2L275.7 355.9L276.5 354.6L277.3 353.4L278.1 352.2L278.9 350.9L279.7 349.4L280.5 348.0L281.2 346.9L282.0 346.5L282.8 346.9L283.6 347.6L284.4 348.5L285.2 349.3L286.0 349.8L286.8 349.8L287.6 349.4L288.4 348.8L289.2 348.3L290.0 348.0L290.8 348.5L291.6 349.6L292.4 351.3L293.2 353.2L294.0 355.0L294.8 356.7L295.6 358.6L296.4 360.5L297.2 362.5L298.0 364.5L298.8 366.3L299.6 367.9L300.4 369.4L301.2 370.8L302.0 372.1L302.8 373.5L303.6 375.0L304.4 376.5L305.2 378.0L306.0 379.6L306.8 381.1L307.6 382.5L308.4 384.0L309.2 385.7L310.0 387.4L310.8 388.8L311.6 389.6L312.4 389.6L313.2 388.4L314.0 386.5L314.8 384.6L315.6 383.4L316.4 383.1L317.2 383.0L318.0 382.8L318.8 382.6L319.5 382.1L320.3 381.3L321.1 380.4L321.9 379.4L322.7 378.4L323.5 377.5L324.3 376.5L325.1 375.4L325.9 374.1L326.7 372.6L327.5 370.8L328.3 368.7L329.1 366.1L329.9 363.0L330.7 360.2L331.5 358.3L332.3 357.0L333.1 355.8L333.9 354.9L334.7 353.9L335.5 352.8L336.3 351.4L337.1 349.8L337.9 348.3L338.7 347.3L339.5 346.9L340.3 347.4L341.1 348.4L341.9 349.4L342.7 349.9L343.5 349.8L344.3 349.7L345.1 349.5L345.9 349.3L346.7 349.2L347.5 349.2L348.3 349.9L349.1 351.0L349.9 352.5L350.7 353.9L351.5 355.5L352.3 357.6L353.1 359.9L353.9 362.2L354.7 364.5L355.5 366.5L356.3 368.5L357.1 370.4L357.8 372.2L358.6 373.7L359.4 375.0L360.2 376.0L361.0 377.0L361.8 378.0L362.6 379.2L363.4 381.0L364.2 383.0L365.0 385.0L365.8 386.5L366.6 387.4L367.4 388.3L368.2 389.0L369.0 389.3L369.8 389.0L370.6 387.4L371.4 385.2L372.2 383.3L373.0 382.4L373.8 382.0L374.6 381.8L375.4 381.5L376.2 381.1L377.0 380.6L377.8 379.9L378.6 379.1L379.4 378.2L380.2 377.2L381.0 376.0L381.8 374.7L382.6 373.0L383.4 371.2L384.2 369.3L385.0 367.1L385.8 364.3L386.6 361.4L387.4 358.9L388.2 357.3L389.0 356.4L389.8 355.7L390.6 355.2L391.4 354.6L392.2 354.0L393.0 353.1L393.8 351.8L394.6 350.4L395.4 349.1L396.1 348.1L396.9 347.7L397.7 347.9L398.5 348.8L399.3 349.9L400.1 350.9L400.9 351.4L401.7 351.3L402.5 351.0L403.3 350.7L404.1 350.4L404.9 350.3L405.7 350.7L406.5 351.6L407.3 352.7L408.1 354.0L408.9 355.5L409.7 357.5L410.5 359.9L411.3 362.6L412.1 365.3L412.9 368.7L413.7 372.1L414.5 374.3L415.3 375.7L416.1 376.7L416.9 377.6L417.7 378.4L418.5 379.3L419.3 380.4L420.1 381.6L420.9 382.9L421.7 384.1L422.5 385.2L423.3 386.2L424.1 387.2L424.9 388.1L425.7 388.8L426.5 389.0L427.3 388.3L428.1 386.7L428.9 384.8L429.7 383.0L430.5 381.8L431.3 381.1L432.1 380.5L432.9 380.0L433.7 379.3L434.4 378.5L435.2 377.7L436.0 376.8L436.8 375.8L437.6 374.8L438.4 373.5L439.2 372.2L440.0 370.6L440.8 369.0L441.6 367.2L442.4 365.2L443.2 363.4L444.0 361.6L444.8 360.0L445.6 358.6L446.4 357.5L447.2 356.7L448.0 356.1L448.8 355.5L449.6 354.9L450.4 354.1L451.2 352.8L452.0 351.3L452.8 349.8L453.6 348.6L454.4 348.0L455.2 348.3L456.0 349.1L456.8 350.1L457.6 350.8L458.4 351.0L459.2 350.8L460.0 350.5L460.8 350.3L461.6 350.3L462.4 350.7L463.2 351.5L464.0 352.4L464.8 353.5L465.6 355.0L466.4 357.1L467.2 359.6L468.0 362.0L468.8 364.0L469.6 365.7L470.4 367.3L471.2 369.1L472.0 371.4L472.7 373.6L473.5 375.3L474.3 376.7L475.1 378.0L475.9 379.2L476.7 380.3L477.5 381.4L478.3 382.4L479.1 383.3L479.9 384.1L480.7 385.0L481.5 386.0L482.3 387.1L483.1 387.9L483.9 388.2L484.7 387.2L485.5 385.1L486.3 382.7L487.1 380.8L487.9 380.0L488.7 379.5L489.5 379.1L490.3 378.6L491.1 378.1L491.9 377.3L492.7 376.4L493.5 375.3L494.3 374.2L495.1 373.0L495.9 371.9L496.7 370.8L497.5 369.6L498.3 368.4L499.1 367.0L499.9 365.4L500.7 363.8L501.5 362.3L502.3 360.8L503.1 359.3L503.9 357.9L504.7 356.6L505.5 355.4L506.3 354.2L507.1 352.9L507.9 351.8L508.7 350.7L509.5 349.9L510.3 349.3L511.0 349.1L511.8 349.5L512.6 350.3L513.4 351.2L514.2 352.0L515.0 352.2L515.8 352.1L516.6 352.0L517.4 351.9L518.2 351.8L519.0 351.8L519.8 352.4L520.6 353.3L521.4 354.5L522.2 355.8L523.0 357.2L523.8 359.1L524.6 361.3L525.4 363.6L526.2 365.9L527.0 368.2L527.8 370.4L528.6 372.1L529.4 373.5L530.2 374.8L531.0 376.0L531.8 377.2L532.6 378.5L533.4 379.9L534.2 381.3L535.0 382.6L535.8 383.6L536.6 384.4L537.4 385.0L538.2 385.6L539.0 386.1L539.8 386.5L540.6 386.7L541.4 386.7L542.2 385.6L543.0 383.8L543.8 381.8L544.6 380.1L545.4 379.1L546.2 378.4L547.0 377.8L547.8 377.3L548.6 376.7L549.3 376.0L550.1 375.2L550.9 374.2L551.7 373.2L552.5 372.1L553.3 371.0L554.1 369.9L554.9 369.0L555.7 367.8L556.5 365.3L557.3 362.2L558.1 360.5L558.9 359.2L559.7 358.2L560.5 357.3L561.3 356.5L562.1 355.8L562.9 355.1L563.7 354.5L564.5 353.9L565.3 353.4L566.1 352.7L566.9 352.0L567.7 351.4L568.5 350.9L569.3 350.7L570.1 351.0L570.9 351.9L571.7 352.9L572.5 353.3L573.3 353.4L574.1 353.5L574.9 353.5L575.7 353.6L576.5 353.7L577.3 354.1L578.1 354.8L578.9 355.8L579.7 357.0L580.5 358.4L581.3 360.7L582.1 363.5L582.9 366.3L583.7 369.0L584.5 371.5L585.3 373.3L586.1 374.9L586.9 376.2L587.6 377.3L588.4 378.2L589.2 378.7L590.0 379.1L590.8 379.5L591.6 379.9L592.4 380.4L593.2 381.3L594.0 382.5L594.8 383.7L595.6 384.6L596.4 384.9L597.2 384.8L598.0 384.6L598.8 384.3L599.6 383.9L600.4 382.4L601.2 380.3L602.0 378.6L602.8 377.7L603.6 377.0L604.4 376.6" stroke="#000"/>
<path d="M31.5 343.5L32.3 345.8L33.1 348.0L33.9 350.1L34.7 352.1L35.5 353.9L36.3 355.5L37.1 356.7L37.9 357.8L38.7 359.3L39.5 361.4L40.3 365.7L41.1 369.0L41.9 371.9L42.7 375.0L43.5 378.7L44.3 381.9L45.1 383.7L45.9 385.0L46.7 386.0L47.5 387.1L48.3 388.4L49.1 390.5L49.9 393.1L50.7 395.6L51.4 397.3L52.2 397.6L53.0 397.3L53.8 396.7L54.6 396.1L55.4 395.5L56.2 394.7L57.0 393.8L57.8 392.6L58.6 390.6L59.4 387.8L60.2 384.5L61.0 381.1L61.8 377.6L62.6 373.5L63.4 369.7L64.2 367.2L65.0 364.9L65.8 361.0L66.6 355.7L67.4 350.5L68.2 346.3L69.0 342.7L69.8 339.2L70.6 336.5L71.4 335.3L72.2 335.7L73.0 336.9L73.8 338.2L74.6 339.6L75.4 340.9L76.2 341.2L77.0 340.7L77.8 339.8L78.6 338.8L79.4 337.9L80.2 337.5L81.0 337.7L81.8 338.5L82.6 339.7L83.4 341.6L84.2 344.9L85.0 348.7L85.8 352.4L86.6 355.4L87.4 357.9L88.2 360.2L89.0 362.4L89.7 364.5L90.5 366.4L91.3 368.1L92.1 370.3L92.9 373.9L93.7 378.0L94.5 381.1L95.3 383.8L96.1 386.2L96.9 388.4L97.7 390.6L98.5 392.8L99.3 395.3L100.1 398.0L100.9 400.0L101.7 400.6L102.5 398.5L103.3 395.5L104.1 394.1L104.9 393.2L105.7 392.6L106.5 392.1L107.3 391.6L108.1 391.3L108.9 391.0L109.7 390.5L110.5 389.5L111.3 388.1L112.1 386.3L112.9 384.1L113.7 381.6L114.5 377.8L115.3 372.2L116.1 368.8L116.9 368.3L117.7 367.9L118.5 365.0L119.3 359.4L120.1 353.7L120.9 350.4L121.7 348.3L122.5 346.6L123.3 345.1L124.1 343.5L124.9 341.5L125.7 338.5L126.5 334.3L127.3 330.2L128.0 327.3L128.8 326.7L129.6 328.8L130.4 332.3L131.2 336.2L132.0 339.3L132.8 341.0L133.6 342.3L134.4 343.4L135.2 344.4L136.0 345.7L136.8 347.3L137.6 349.4L138.4 351.8L139.2 354.7L140.0 358.7L140.8 363.8L141.6 367.0L142.4 369.5L143.2 374.6L144.0 380.1L144.8 384.0L145.6 387.5L146.4 390.4L147.2 392.7L148.0 394.3L148.8 395.5L149.6 396.5L150.4 397.6L151.2 399.2L152.0 401.2L152.8 402.7L153.6 403.3L154.4 402.7L155.2 401.6L156.0 400.4L156.8 398.8L157.6 396.8L158.4 394.6L159.2 392.2L160.0 389.5L160.8 386.3L161.6 382.8L162.4 379.3L163.2 375.6L164.0 371.7L164.8 368.0L165.6 364.1L166.3 360.5L167.1 357.7L167.9 356.1L168.7 354.9L169.5 354.0L170.3 353.0L171.1 352.0L171.9 350.5L172.7 348.4L173.5 346.0L174.3 343.6L175.1 341.6L175.9 340.1L176.7 338.5L177.5 337.3L178.3 336.7L179.1 337.6L179.9 339.7L180.7 341.7L181.5 342.5L182.3 342.7L183.1 342.8L183.9 343.0L184.7 343.6L185.5 344.6L186.3 346.0L187.1 347.4L187.9 349.0L188.7 350.7L189.5 352.7L190.3 354.9L191.1 357.5L191.9 360.8L192.7 364.1L193.5 366.3L194.3 367.8L195.1 370.4L195.9 378.4L196.7 381.2L197.5 383.1L198.3 384.6L199.1 386.0L199.9 387.7L200.7 389.5L201.5 391.3L202.3 393.0L203.1 394.5L203.9 395.6L204.6 396.7L205.4 397.5L206.2 397.6L207.0 396.8L207.8 395.7L208.6 394.5L209.4 393.7L210.2 393.0L211.0 392.3L211.8 391.4L212.6 389.8L213.4 387.4L214.2 384.4L215.0 381.1L215.8 377.5L216.6 373.3L217.4 368.3L218.2 362.1L219.0 354.5L219.8 348.6L220.6 345.8L221.4 343.9L222.2 342.2L223.0 340.4L223.8 337.8L224.6 335.7L225.4 335.3L226.2 336.5L227.0 337.9L227.8 339.0L228.6 340.0L229.4 340.5L230.2 340.1L231.0 338.9L231.8 338.1L232.6 337.6L233.4 337.2L234.2 337.2L235.0 338.2L235.8 339.9L236.6 342.2L237.4 345.7L238.2 349.9L239.0 353.8L239.8 357.5L240.6 361.3L241.4 364.6L242.2 366.9L242.9 368.3L243.7 369.6L244.5 371.4L245.3 373.8L246.1 376.2L246.9 378.9L247.7 381.6L248.5 384.3L249.3 387.1L250.1 390.1L250.9 393.3L251.7 396.0L252.5 397.8L253.3 399.4L254.1 400.5L254.9 400.3L255.7 397.6L256.5 394.0L257.3 392.0L258.1 391.6L258.9 391.4L259.7 391.1L260.5 390.8L261.3 390.4L262.1 389.9L262.9 388.9L263.7 387.2L264.5 385.1L265.3 382.8L266.1 380.6L266.9 378.7L267.7 376.8L268.5 374.8L269.3 372.4L270.1 369.6L270.9 365.2L271.7 358.6L272.5 353.4L273.3 351.2L274.1 349.7L274.9 348.6L275.7 347.3L276.5 345.6L277.3 343.3L278.1 340.7L278.9 338.0L279.7 334.9L280.5 331.1L281.2 327.8L282.0 326.6L282.8 329.3L283.6 334.2L284.4 337.6L285.2 339.6L286.0 341.3L286.8 342.7L287.6 343.7L288.4 344.5L289.2 345.2L290.0 346.1L290.8 347.5L291.6 349.3L292.4 351.7L293.2 355.1L294.0 363.3L294.8 367.6L295.6 369.3L296.4 372.1L297.2 376.6L298.0 380.6L298.8 384.6L299.6 388.3L300.4 391.4L301.2 393.2L302.0 394.4L302.8 395.3L303.6 396.2L304.4 397.1L305.2 398.4L306.0 400.5L306.8 402.4L307.6 403.3L308.4 402.7L309.2 401.2L310.0 399.1L310.8 397.0L311.6 394.5L312.4 391.7L313.2 388.4L314.0 384.7L314.8 379.9L315.6 375.4L316.4 372.2L317.2 369.5L318.0 366.9L318.8 364.3L319.5 361.9L320.3 359.9L321.1 358.5L321.9 357.5L322.7 356.7L323.5 355.8L324.3 354.7L325.1 352.7L325.9 349.8L326.7 346.6L327.5 344.2L328.3 342.1L329.1 340.0L329.9 338.4L330.7 337.3L331.5 337.3L332.3 338.7L333.1 340.8L333.9 342.3L334.7 342.7L335.5 342.9L336.3 343.1L337.1 343.3L337.9 343.8L338.7 344.7L339.5 346.0L340.3 347.5L341.1 349.0L341.9 350.7L342.7 352.6L343.5 354.7L344.3 356.8L345.1 359.0L345.9 361.2L346.7 363.7L347.5 366.8L348.3 372.1L349.1 377.6L349.9 380.2L350.7 382.0L351.5 383.7L352.3 385.4L353.1 387.0L353.9 388.5L354.7 390.0L355.5 391.5L356.3 393.3L357.1 395.0L357.8 396.3L358.6 396.9L359.4 396.7L360.2 395.9L361.0 394.9L361.8 394.1L362.6 393.4L363.4 392.8L364.2 392.1L365.0 391.2L365.8 389.8L366.6 387.0L367.4 383.3L368.2 379.4L369.0 375.8L369.8 371.9L370.6 367.9L371.4 363.4L372.2 358.9L373.0 354.5L373.8 350.1L374.6 345.9L375.4 342.4L376.2 339.7L377.0 337.3L377.8 335.8L378.6 335.8L379.4 337.0L380.2 338.8L381.0 340.4L381.8 341.5L382.6 341.5L383.4 341.0L384.2 340.1L385.0 339.2L385.8 338.5L386.6 338.2L387.4 338.7L388.2 339.7L389.0 341.1L389.8 342.7L390.6 345.6L391.4 349.4L392.2 353.1L393.0 356.2L393.8 359.1L394.6 361.8L395.4 364.4L396.1 366.7L396.9 368.6L397.7 370.1L398.5 371.4L399.3 373.0L400.1 375.1L400.9 378.1L401.7 381.5L402.5 385.0L403.3 388.0L404.1 390.9L404.9 393.9L405.7 396.7L406.5 399.0L407.3 400.4L408.1 400.4L408.9 397.9L409.7 394.5L410.5 392.2L411.3 391.7L412.1 391.5L412.9 391.3L413.7 391.1L414.5 390.9L415.3 390.7L416.1 390.3L416.9 388.7L417.7 386.2L418.5 383.1L419.3 380.2L420.1 377.7L420.9 375.2L421.7 372.6L422.5 369.9L423.3 366.9L424.1 363.4L424.9 359.2L425.7 355.2L426.5 351.9L427.3 349.9L428.1 348.5L428.9 347.3L429.7 345.8L430.5 343.5L431.3 340.7L432.1 337.8L432.9 334.3L433.7 331.0L434.4 329.6L435.2 330.5L436.0 332.4L436.8 334.6L437.6 336.7L438.4 339.0L439.2 340.9L440.0 342.4L440.8 343.5L441.6 344.6L442.4 346.0L443.2 347.9L444.0 350.6L444.8 353.8L445.6 357.3L446.4 360.8L447.2 364.7L448.0 368.7L448.8 372.9L449.6 376.9L450.4 380.4L451.2 383.7L452.0 386.8L452.8 389.5L453.6 391.7L454.4 393.3L455.2 394.5L456.0 395.6L456.8 396.7L457.6 398.0L458.4 399.7L459.2 401.5L460.0 403.0L460.8 403.7L461.6 402.6L462.4 399.9L463.2 397.0L464.0 394.8L464.8 392.7L465.6 390.4L466.4 387.6L467.2 383.9L468.0 379.5L468.8 375.4L469.6 372.0L470.4 369.0L471.2 366.4L472.0 364.0L472.7 361.8L473.5 359.9L474.3 358.4L475.1 357.4L475.9 356.7L476.7 355.9L477.5 355.0L478.3 353.3L479.1 350.3L479.9 346.6L480.7 343.1L481.5 340.9L482.3 339.6L483.1 338.5L483.9 337.7L484.7 337.5L485.5 338.6L486.3 340.5L487.1 342.1L487.9 342.5L488.7 342.7L489.5 342.9L490.3 343.1L491.1 343.6L491.9 344.4L492.7 345.4L493.5 346.7L494.3 348.8L495.1 351.4L495.9 353.9L496.7 355.9L497.5 357.5L498.3 359.0L499.1 360.7L499.9 362.7L500.7 365.3L501.5 369.3L502.3 374.1L503.1 379.8L503.9 382.7L504.7 384.6L505.5 386.2L506.3 387.5L507.1 388.8L507.9 390.3L508.7 392.0L509.5 393.6L510.3 395.0L511.0 396.0L511.8 396.5L512.6 396.3L513.4 395.5L514.2 394.5L515.0 393.5L515.8 392.8L516.6 392.2L517.4 391.4L518.2 390.3L519.0 388.1L519.8 384.8L520.6 381.2L521.4 377.8L522.2 374.5L523.0 371.0L523.8 367.1L524.6 362.6L525.4 357.8L526.2 353.3L527.0 349.7L527.8 346.4L528.6 343.5L529.4 340.6L530.2 337.6L531.0 336.0L531.8 336.4L532.6 337.7L533.4 339.2L534.2 340.1L535.0 340.5L535.8 340.8L536.6 340.9L537.4 340.3L538.2 339.1L539.0 338.1L539.8 337.9L540.6 338.8L541.4 340.6L542.2 342.7L543.0 344.9L543.8 348.1L544.6 351.7L545.4 355.1L546.2 357.8L547.0 360.3L547.8 362.5L548.6 364.6L549.3 366.6L550.1 368.6L550.9 370.3L551.7 371.9L552.5 373.9L553.3 376.3L554.1 379.1L554.9 382.2L555.7 385.3L556.5 388.4L557.3 391.8L558.1 395.2L558.9 397.7L559.7 399.1L560.5 400.2L561.3 400.7L562.1 399.2L562.9 395.6L563.7 392.6L564.5 391.8L565.3 391.6L566.1 391.4L566.9 391.0L567.7 390.4L568.5 389.6L569.3 388.4L570.1 386.8L570.9 384.8L571.7 382.6L572.5 380.4L573.3 377.9L574.1 375.2L574.9 372.2L575.7 369.2L576.5 366.2L577.3 363.0L578.1 359.7L578.9 356.4L579.7 353.4L580.5 350.8L581.3 348.8L582.1 347.0L582.9 345.0L583.7 342.1L584.5 338.0L585.3 333.8L586.1 330.8L586.9 329.5L587.6 328.5L588.4 328.1L589.2 329.4L590.0 333.0L590.8 336.3L591.6 338.2L592.4 339.7L593.2 341.2L594.0 342.5L594.8 343.8L595.6 344.9L596.4 346.1L597.2 347.8L598.0 350.1L598.8 352.9L599.6 356.0L600.4 359.2L601.2 362.7L602.0 367.0L602.8 374.2L603.6 377.8L604.4 379.7" stroke="#ff0000"/>
<path d="M31.5 325.8L32.3 326.0L33.1 326.3L33.9 327.0L34.7 329.9L35.5 334.4L36.3 338.8L37.1 342.0L37.9 344.5L38.7 346.8L39.5 349.2L40.3 352.0L41.1 355.6L41.9 359.6L42.7 363.7L43.5 367.2L44.3 370.2L45.1 373.0L45.9 375.9L46.7 379.0L47.5 382.3L48.3 385.6L49.1 388.8L49.9 392.3L50.7 395.8L51.4 398.7L52.2 400.3L53.0 401.2L53.8 401.9L54.6 402.7L55.4 403.7L56.2 405.1L57.0 406.3L57.8 406.7L58.6 405.4L59.4 402.9L60.2 400.0L61.0 397.6L61.8 395.2L62.6 392.8L63.4 390.1L64.2 386.9L65.0 382.6L65.8 377.1L66.6 371.7L67.4 367.2L68.2 362.7L69.0 358.3L69.8 354.3L70.6 351.2L71.4 349.3L72.2 348.6L73.0 348.2L73.8 347.9L74.6 347.5L75.4 346.9L76.2 345.3L77.0 342.7L77.8 339.8L78.6 337.1L79.4 334.1L80.2 331.5L81.0 329.4L81.8 327.5L82.6 326.6L83.4 327.7L84.2 329.9L85.0 331.3L85.8 332.0L86.6 332.5L87.4 332.9L88.2 333.5L89.0 334.4L89.7 335.7L90.5 337.7L91.3 340.8L92.1 344.6L92.9 348.7L93.7 352.7L94.5 356.2L95.3 359.4L96.1 362.8L96.9 366.5L97.7 371.1L98.5 376.4L99.3 381.3L100.1 386.2L100.9 390.7L101.7 392.9L102.5 393.5L103.3 393.9L104.1 394.3L104.9 395.2L105.7 396.9L106.5 398.9L107.3 401.0L108.1 403.5L108.9 406.3L109.7 407.4L110.5 407.0L111.3 406.0L112.1 404.6L112.9 403.0L113.7 401.4L114.5 399.7L115.3 397.7L116.1 395.4L116.9 392.9L117.7 389.8L118.5 386.2L119.3 382.3L120.1 378.1L120.9 373.4L121.7 368.3L122.5 362.8L123.3 356.7L124.1 350.5L124.9 344.6L125.7 338.5L126.5 332.1L127.3 327.0L128.0 324.7L128.8 323.7L129.6 324.2L130.4 327.2L131.2 330.8L132.0 333.3L132.8 335.5L133.6 337.4L134.4 338.2L135.2 338.2L136.0 338.0L136.8 337.9L137.6 337.9L138.4 338.7L139.2 340.0L140.0 341.8L140.8 344.9L141.6 348.8L142.4 352.8L143.2 356.2L144.0 359.0L144.8 361.7L145.6 364.3L146.4 366.8L147.2 369.1L148.0 371.2L148.8 373.4L149.6 375.8L150.4 378.5L151.2 381.5L152.0 384.9L152.8 388.6L153.6 393.3L154.4 398.1L155.2 400.9L156.0 403.0L156.8 404.7L157.6 406.0L158.4 406.6L159.2 405.9L160.0 402.4L160.8 398.2L161.6 395.7L162.4 394.9L163.2 394.4L164.0 393.9L164.8 393.2L165.6 392.5L166.3 391.7L167.1 390.7L167.9 389.2L168.7 387.0L169.5 384.4L170.3 381.6L171.1 378.9L171.9 376.2L172.7 373.4L173.5 370.4L174.3 366.8L175.1 361.8L175.9 356.0L176.7 350.4L177.5 346.1L178.3 343.6L179.1 341.6L179.9 339.9L180.7 338.1L181.5 336.0L182.3 333.0L183.1 329.5L183.9 326.3L184.7 323.7L185.5 322.5L186.3 322.8L187.1 323.7L187.9 326.4L188.7 330.7L189.5 335.2L190.3 338.7L191.1 341.5L191.9 344.0L192.7 346.5L193.5 349.1L194.3 352.0L195.1 355.1L195.9 358.3L196.7 361.7L197.5 365.3L198.3 369.2L199.1 373.7L199.9 378.0L200.7 381.4L201.5 384.3L202.3 386.9L203.1 389.6L203.9 392.9L204.6 396.2L205.4 398.5L206.2 399.8L207.0 400.7L207.8 401.6L208.6 402.9L209.4 405.0L210.2 407.1L211.0 408.2L211.8 407.5L212.6 405.4L213.4 402.8L214.2 400.4L215.0 398.1L215.8 395.6L216.6 392.9L217.4 389.9L218.2 386.5L219.0 382.8L219.8 378.8L220.6 374.3L221.4 369.4L222.2 364.8L223.0 360.2L223.8 356.2L224.6 353.8L225.4 352.4L226.2 351.4L227.0 350.4L227.8 349.1L228.6 347.4L229.4 345.1L230.2 342.5L231.0 339.8L231.8 337.4L232.6 334.5L233.4 331.5L234.2 328.9L235.0 327.5L235.8 327.7L236.6 329.2L237.4 331.0L238.2 331.9L239.0 332.0L239.8 332.0L240.6 332.1L241.4 332.3L242.2 333.6L242.9 335.7L243.7 338.1L244.5 341.3L245.3 345.0L246.1 348.8L246.9 352.5L247.7 356.0L248.5 359.4L249.3 362.9L250.1 366.5L250.9 370.5L251.7 374.7L252.5 378.8L253.3 383.1L254.1 387.5L254.9 390.4L255.7 391.5L256.5 392.1L257.3 392.7L258.1 393.6L258.9 395.5L259.7 398.2L260.5 400.9L261.3 403.3L262.1 405.9L262.9 407.4L263.7 407.1L264.5 406.0L265.3 404.7L266.1 403.4L266.9 402.3L267.7 401.0L268.5 399.5L269.3 397.1L270.1 393.2L270.9 388.5L271.7 383.5L272.5 378.8L273.3 373.8L274.1 368.5L274.9 362.9L275.7 356.7L276.5 350.9L277.3 346.4L278.1 342.4L278.9 338.9L279.7 335.7L280.5 332.4L281.2 328.9L282.0 326.4L282.8 326.0L283.6 327.7L284.4 330.4L285.2 332.8L286.0 335.5L286.8 337.6L287.6 337.7L288.4 337.1L289.2 336.3L290.0 335.5L290.8 335.2L291.6 335.5L292.4 336.3L293.2 337.3L294.0 340.0L294.8 344.1L295.6 348.3L296.4 351.7L297.2 354.9L298.0 358.0L298.8 360.9L299.6 363.8L300.4 366.5L301.2 368.9L302.0 371.1L302.8 373.2L303.6 375.3L304.4 377.8L305.2 380.5L306.0 383.4L306.8 386.5L307.6 389.5L308.4 392.7L309.2 396.1L310.0 399.4L310.8 402.4L311.6 405.5L312.4 406.6L313.2 404.2L314.0 400.1L314.8 397.1L315.6 396.4L316.4 396.0L317.2 395.7L318.0 395.6L318.8 395.5L319.5 395.0L320.3 393.4L321.1 390.9L321.9 388.1L322.7 385.7L323.5 383.3L324.3 380.8L325.1 378.1L325.9 375.4L326.7 372.7L327.5 369.9L328.3 366.8L329.1 363.1L329.9 358.8L330.7 354.7L331.5 351.3L332.3 348.5L333.1 345.9L333.9 343.0L334.7 339.4L335.5 335.2L336.3 331.0L337.1 327.4L337.9 323.9L338.7 321.3L339.5 321.4L340.3 323.8L341.1 327.1L341.9 330.3L342.7 334.2L343.5 338.0L344.3 341.1L345.1 343.2L345.9 344.9L346.7 346.4L347.5 348.0L348.3 350.0L349.1 352.7L349.9 356.5L350.7 360.9L351.5 365.3L352.3 369.3L353.1 373.3L353.9 377.2L354.7 381.0L355.5 385.1L356.3 389.3L357.1 393.0L357.8 396.0L358.6 397.8L359.4 399.1L360.2 400.1L361.0 401.2L361.8 402.5L362.6 404.7L363.4 407.0L364.2 408.4L365.0 408.2L365.8 406.7L366.6 404.3L367.4 401.9L368.2 399.5L369.0 396.8L369.8 393.8L370.6 390.6L371.4 386.7L372.2 382.3L373.0 378.1L373.8 374.5L374.6 371.3L375.4 367.9L376.2 363.0L377.0 358.5L377.8 356.5L378.6 355.1L379.4 354.0L380.2 353.0L381.0 351.8L381.8 350.1L382.6 348.1L383.4 345.8L384.2 343.4L385.0 341.0L385.8 338.1L386.6 334.6L387.4 331.4L388.2 329.2L389.0 329.0L389.8 330.0L390.6 331.4L391.4 332.2L392.2 332.2L393.0 332.2L393.8 332.2L394.6 332.2L395.4 333.2L396.1 335.8L396.9 339.0L397.7 341.8L398.5 344.7L399.3 347.7L400.1 350.8L400.9 353.8L401.7 356.7L402.5 359.3L403.3 362.0L404.1 365.1L404.9 368.7L405.7 373.3L406.5 378.0L407.3 381.9L408.1 385.6L408.9 388.5L409.7 390.0L410.5 390.9L411.3 391.7L412.1 392.9L412.9 395.0L413.7 397.4L414.5 401.1L415.3 404.8L416.1 406.3L416.9 405.8L417.7 404.9L418.5 403.9L419.3 403.1L420.1 402.4L420.9 401.6L421.7 400.5L422.5 398.4L423.3 395.3L424.1 391.6L424.9 387.4L425.7 381.7L426.5 375.3L427.3 369.5L428.1 365.1L428.9 361.5L429.7 358.0L430.5 354.1L431.3 349.3L432.1 344.1L432.9 339.3L433.7 335.2L434.4 331.1L435.2 328.4L436.0 328.4L436.8 330.1L437.6 332.2L438.4 334.6L439.2 337.2L440.0 338.2L440.8 337.2L441.6 335.7L442.4 335.1L443.2 334.8L444.0 334.6L444.8 334.5L445.6 335.7L446.4 338.2L447.2 340.8L448.0 343.1L448.8 345.7L449.6 348.3L450.4 350.8L451.2 353.3L452.0 355.7L452.8 358.3L453.6 361.0L454.4 364.0L455.2 367.2L456.0 370.1L456.8 373.0L457.6 375.9L458.4 379.0L459.2 382.4L460.0 385.9L460.8 389.3L461.6 392.6L462.4 395.9L463.2 399.6L464.0 403.0L464.8 405.1L465.6 405.2L466.4 402.5L467.2 399.1L468.0 397.4L468.8 396.7L469.6 396.2L470.4 396.2L471.2 396.9L472.0 397.8L472.7 398.4L473.5 397.8L474.3 395.7L475.1 392.8L475.9 389.7L476.7 387.0L477.5 384.2L478.3 381.2L479.1 378.1L479.9 375.0L480.7 371.8L481.5 368.4L482.3 365.1L483.1 361.8L483.9 358.4L484.7 355.0L485.5 351.2L486.3 347.2L487.1 343.1L487.9 338.9L488.7 334.7L489.5 330.4L490.3 326.7L491.1 323.5L491.9 320.9L492.7 320.3L493.5 322.1L494.3 325.0L495.1 328.0L495.9 331.9L496.7 336.0L497.5 339.4L498.3 341.4L499.1 342.8L499.9 344.1L500.7 345.6L501.5 347.5L502.3 350.0L503.1 353.1L503.9 356.3L504.7 359.8L505.5 363.6L506.3 368.3L507.1 375.0L507.9 381.6L508.7 386.0L509.5 389.7L510.3 392.8L511.0 395.3L511.8 397.3L512.6 398.9L513.4 400.3L514.2 401.7L515.0 403.5L515.8 405.4L516.6 407.3L517.4 408.5L518.2 408.9L519.0 407.8L519.8 405.7L520.6 403.3L521.4 401.2L522.2 399.5L523.0 397.7L523.8 395.6L524.6 392.7L525.4 388.3L526.2 383.1L527.0 377.9L527.8 372.8L528.6 367.9L529.4 364.6L530.2 362.0L531.0 360.0L531.8 358.4L532.6 357.2L533.4 356.0L534.2 354.8L535.0 353.4L535.8 352.1L536.6 350.5L537.4 348.4L538.2 344.9L539.0 340.8L539.8 337.4L540.6 334.2L541.4 331.6L542.2 330.7L543.0 331.5L543.8 332.7L544.6 333.8L545.4 334.1L546.2 333.8L547.0 333.3L547.8 332.9L548.6 332.6L549.3 333.2L550.1 335.6L550.9 338.8L551.7 342.1L552.5 345.4L553.3 349.1L554.1 352.8L554.9 356.4L555.7 360.0L556.5 363.7L557.3 367.6L558.1 372.1L558.9 376.7L559.7 380.6L560.5 383.4L561.3 385.5L562.1 387.4L562.9 389.1L563.7 390.9L564.5 392.8L565.3 394.7L566.1 396.7L566.9 398.7L567.7 401.3L568.5 404.0L569.3 405.2L570.1 404.9L570.9 404.4L571.7 403.8L572.5 403.1L573.3 402.6L574.1 401.9L574.9 401.0L575.7 399.5L576.5 395.9L577.3 390.9L578.1 385.5L578.9 380.6L579.7 375.2L580.5 370.1L581.3 366.2L582.1 363.6L582.9 361.5L583.7 359.1L584.5 355.2L585.3 349.2L586.1 342.7L586.9 337.3L587.6 333.6L588.4 331.2L589.2 331.7L590.0 333.6L590.8 335.9L591.6 337.8L592.4 338.6L593.2 338.1L594.0 336.9L594.8 335.6L595.6 334.7L596.4 333.9L597.2 333.2L598.0 332.7L598.8 332.7L599.6 334.2L600.4 336.6L601.2 339.1L602.0 341.1L602.8 343.0L603.6 344.8L604.4 346.6" stroke="#0000ff"/>
</g>
<path d="M127.25 424.4v-5M127.25 313.2v5M223 424.4v-5M223 313.2v5M318.75 424.4v-5M318.75 313.2v5M414.5 424.4v-5M414.5 313.2v5M510.25 424.4v-5M510.25 313.2v5M31.5 331.1h5M606.0 331.1h-5M31.5 368.7h5M606.0 368.7h-5M31.5 406.3h5M606.0 406.3h-5" stroke="#000" stroke-width="1" fill="none"/>
<rect x="31.5" y="313.2" width="574.5" height="111.2" stroke="#000" stroke-width="1.1" fill="none"/>
<text x="31.5" y="438.5" font-family="Liberation Sans, sans-serif" font-size="10" text-anchor="middle" fill="#262626">1</text>
<text x="127.25" y="438.5" font-family="Liberation Sans, sans-serif" font-size="10" text-anchor="middle" fill="#262626">6</text>
<text x="223" y="438.5" font-family="Liberation Sans, sans-serif" font-size="10" text-anchor="middle" fill="#262626">11</text>
<text x="318.75" y="438.5" font-family="Liberation Sans, sans-serif" font-size="10" text-anchor="middle" fill="#262626">16</text>
<text x="414.5" y="438.5" font-family="Liberation Sans, sans-serif" font-size="10" text-anchor="middle" fill="#262626">21</text>
<text x="510.25" y="438.5" font-family="Liberation Sans, sans-serif" font-size="10" text-anchor="middle" fill="#262626">26</text>
<text x="606" y="438.5" font-family="Liberation Sans, sans-serif" font-size="10" text-anchor="middle" fill="#262626">31</text>
<text x="27.5" y="335.2" font-family="Liberation Sans, sans-serif" font-size="10" text-anchor="end" fill="#262626">1</text>
<text x="27.5" y="372.8" font-family="Liberation Sans, sans-serif" font-size="10" text-anchor="end" fill="#262626">0</text>
<text x="27.5" y="410.4" font-family="Liberation Sans, sans-serif" font-size="10" text-anchor="end" fill="#262626">-1</text>
<text x="318.75" y="451.8" font-family="Liberation Sans, sans-serif" font-size="11.5" text-anchor="middle" fill="#262626">model year</text>
<text x="318.75" y="307.7" font-family="Liberation Sans, sans-serif" font-size="11.3" text-anchor="middle" fill="#262626">(d) Niño-3.4</text>
<text transform="translate(13.8 369) rotate(-90)" font-family="Liberation Sans, sans-serif" font-size="11" text-anchor="middle" fill="#262626">°C</text>
<rect x="619.1" y="351.2" width="64.5" height="35.2" fill="#fff" stroke="#262626" stroke-width="0.9"/>
<path d="M621.3 357.9H647" stroke="#ff0000" stroke-width="1.8"/>
<text x="649.8" y="361.3" font-family="Liberation Sans, sans-serif" font-size="9.4" fill="#262626">ICM-P1</text>
<path d="M621.3 368.85H647" stroke="#0000ff" stroke-width="1.8"/>
<text x="649.8" y="372.25" font-family="Liberation Sans, sans-serif" font-size="9.4" fill="#262626">ICM-P2</text>
<path d="M621.3 379.8H647" stroke="#000" stroke-width="1.8"/>
<text x="649.8" y="383.2" font-family="Liberation Sans, sans-serif" font-size="9.4" fill="#262626">ICM-P3</text>
</svg>
</body></html>
